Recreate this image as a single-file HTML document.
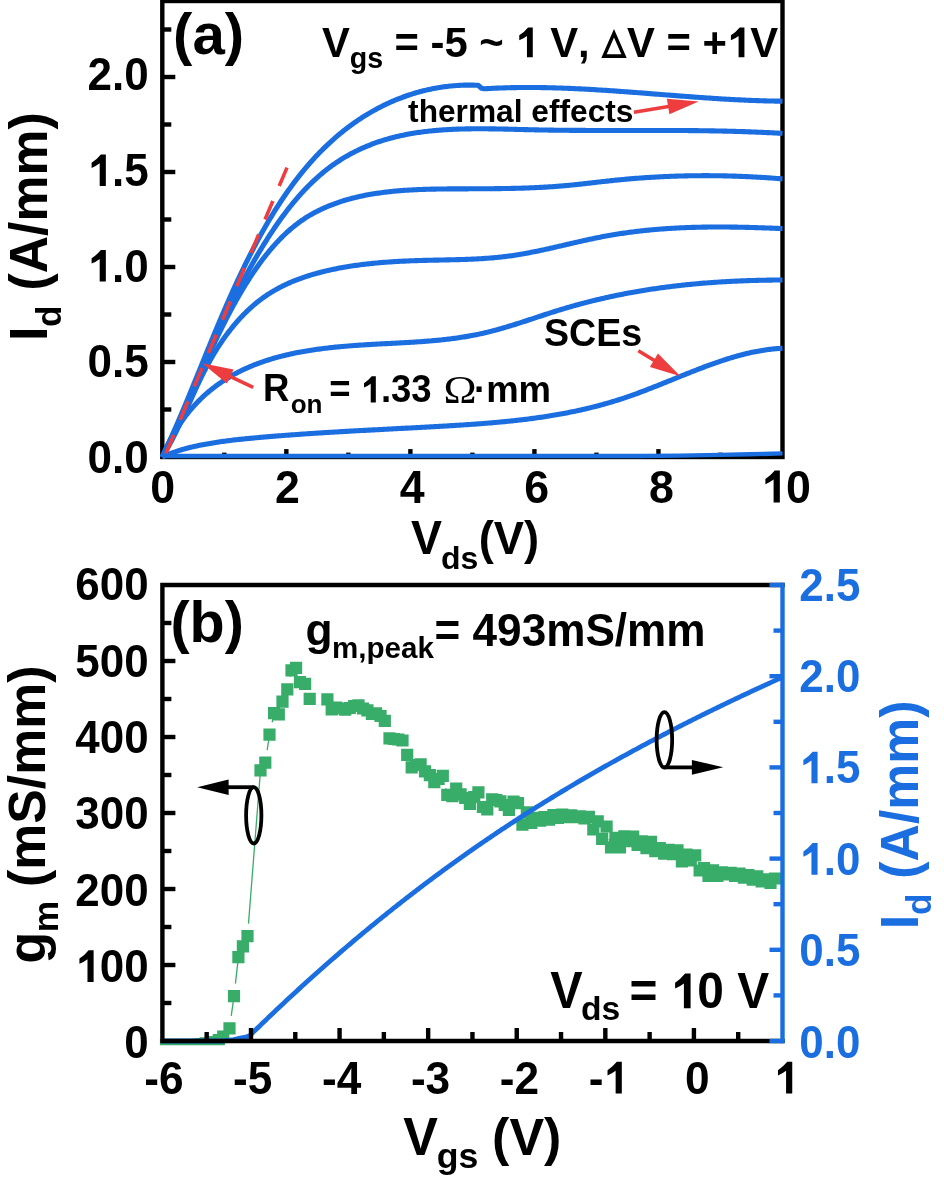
<!DOCTYPE html>
<html><head><meta charset="utf-8"><title>Figure</title>
<style>
html,body{margin:0;padding:0;background:#fff;}
svg{display:block;will-change:transform;}
text{font-family:"Liberation Sans", sans-serif;font-weight:bold;font-kerning:none;}
</style></head>
<body>
<svg width="944" height="1182" viewBox="0 0 944 1182">
<rect width="944" height="1182" fill="#fff"/>
<line x1="224.32" y1="457" x2="224.32" y2="452.6" stroke="#000" stroke-width="4.4"/>
<line x1="286.34" y1="457" x2="286.34" y2="449.1" stroke="#000" stroke-width="4.4"/>
<line x1="348.36" y1="457" x2="348.36" y2="452.6" stroke="#000" stroke-width="4.4"/>
<line x1="410.38" y1="457" x2="410.38" y2="449.1" stroke="#000" stroke-width="4.4"/>
<line x1="472.4" y1="457" x2="472.4" y2="452.6" stroke="#000" stroke-width="4.4"/>
<line x1="534.42" y1="457" x2="534.42" y2="449.1" stroke="#000" stroke-width="4.4"/>
<line x1="596.44" y1="457" x2="596.44" y2="452.6" stroke="#000" stroke-width="4.4"/>
<line x1="658.46" y1="457" x2="658.46" y2="449.1" stroke="#000" stroke-width="4.4"/>
<line x1="720.48" y1="457" x2="720.48" y2="452.6" stroke="#000" stroke-width="4.4"/>
<line x1="162.3" y1="409.5" x2="171.3" y2="409.5" stroke="#000" stroke-width="4.4"/>
<line x1="162.3" y1="362" x2="175.3" y2="362" stroke="#000" stroke-width="4.4"/>
<line x1="162.3" y1="314.5" x2="171.3" y2="314.5" stroke="#000" stroke-width="4.4"/>
<line x1="162.3" y1="267" x2="175.3" y2="267" stroke="#000" stroke-width="4.4"/>
<line x1="162.3" y1="219.5" x2="171.3" y2="219.5" stroke="#000" stroke-width="4.4"/>
<line x1="162.3" y1="172" x2="175.3" y2="172" stroke="#000" stroke-width="4.4"/>
<line x1="162.3" y1="124.5" x2="171.3" y2="124.5" stroke="#000" stroke-width="4.4"/>
<line x1="162.3" y1="77" x2="175.3" y2="77" stroke="#000" stroke-width="4.4"/>
<line x1="162.3" y1="29.5" x2="171.3" y2="29.5" stroke="#000" stroke-width="4.4"/>
<rect x="162.3" y="1" width="620.2" height="456" fill="none" stroke="#000" stroke-width="4.4"/>
<path d="M162.3 456 L400 456 L640 456 L680 455.6 L720 454.9 L750 454.3 L782.5 453.4" fill="none" stroke="#1b6ee0" stroke-width="4.4"/>
<path d="M162.29 456.99 L163.72 456.34 L165.14 455.71 L166.57 455.1 L168 454.51 L169.43 453.94 L170.87 453.38 L172.3 452.84 L173.73 452.32 L175.17 451.82 L176.61 451.33 L178.05 450.86 L179.48 450.41 L180.92 449.96 L182.37 449.54 L183.81 449.12 L185.25 448.72 L186.7 448.33 L188.14 447.95 L189.59 447.59 L191.04 447.23 L192.49 446.89 L193.94 446.55 L195.39 446.23 L196.84 445.91 L198.29 445.6 L199.75 445.3 L201.2 445.01 L202.66 444.72 L204.11 444.44 L205.57 444.17 L207.03 443.9 L208.49 443.64 L209.95 443.39 L211.41 443.14 L212.87 442.9 L214.34 442.66 L215.8 442.43 L217.27 442.21 L218.73 441.99 L220.2 441.78 L221.67 441.57 L223.14 441.37 L224.61 441.17 L226.08 440.98 L227.55 440.79 L229.02 440.6 L230.49 440.42 L231.97 440.24 L233.44 440.07 L234.92 439.9 L236.39 439.73 L237.87 439.57 L239.35 439.41 L240.83 439.25 L242.31 439.1 L243.78 438.95 L245.27 438.8 L246.75 438.65 L248.23 438.51 L249.71 438.37 L251.19 438.23 L252.68 438.09 L254.16 437.95 L255.65 437.81 L257.13 437.68 L258.62 437.55 L260.11 437.41 L261.6 437.28 L263.09 437.15 L264.57 437.02 L266.06 436.9 L267.55 436.77 L269.05 436.64 L270.54 436.52 L272.03 436.4 L273.52 436.27 L275.01 436.15 L276.51 436.03 L278 435.91 L279.5 435.79 L280.99 435.68 L282.49 435.56 L283.99 435.45 L285.48 435.33 L286.98 435.22 L288.48 435.11 L289.97 435 L291.47 434.89 L292.97 434.78 L294.47 434.67 L295.97 434.56 L297.47 434.45 L298.97 434.35 L300.47 434.24 L301.98 434.14 L303.48 434.03 L304.98 433.93 L306.48 433.83 L307.99 433.73 L309.49 433.63 L310.99 433.53 L312.5 433.43 L314 433.33 L315.51 433.23 L317.01 433.14 L318.52 433.04 L320.02 432.95 L321.53 432.85 L323.03 432.76 L324.54 432.66 L326.05 432.57 L327.55 432.48 L329.06 432.39 L330.57 432.3 L332.07 432.21 L333.58 432.12 L335.09 432.03 L336.6 431.94 L338.11 431.85 L339.61 431.76 L341.12 431.67 L342.63 431.59 L344.14 431.5 L345.65 431.41 L347.16 431.33 L348.67 431.24 L350.18 431.16 L351.69 431.07 L353.19 430.99 L354.7 430.9 L356.21 430.82 L357.72 430.74 L359.23 430.66 L360.74 430.57 L362.25 430.49 L363.76 430.41 L365.27 430.33 L366.78 430.25 L368.29 430.16 L369.8 430.08 L371.31 430 L372.82 429.92 L374.33 429.84 L375.84 429.76 L377.35 429.68 L378.86 429.6 L380.37 429.52 L381.88 429.44 L383.39 429.36 L384.9 429.28 L386.41 429.2 L387.92 429.12 L389.42 429.05 L390.93 428.97 L392.44 428.89 L393.95 428.81 L395.46 428.73 L396.97 428.65 L398.47 428.57 L399.98 428.49 L401.49 428.41 L403 428.33 L404.5 428.25 L406.01 428.17 L407.52 428.09 L409.02 428.01 L410.53 427.93 L412.04 427.85 L413.54 427.77 L415.05 427.69 L416.55 427.61 L418.06 427.53 L419.56 427.45 L421.07 427.37 L422.57 427.29 L424.07 427.21 L425.58 427.12 L427.08 427.04 L428.58 426.96 L430.08 426.88 L431.58 426.79 L433.09 426.71 L434.59 426.62 L436.09 426.54 L437.59 426.46 L439.09 426.37 L440.59 426.29 L442.09 426.2 L443.58 426.11 L445.08 426.03 L446.58 425.94 L448.08 425.85 L449.57 425.76 L451.07 425.67 L452.57 425.58 L454.06 425.49 L455.56 425.4 L457.05 425.31 L458.54 425.21 L460.04 425.12 L461.53 425.02 L463.02 424.93 L464.52 424.83 L466.01 424.73 L467.5 424.63 L468.99 424.53 L470.48 424.43 L471.97 424.32 L473.46 424.22 L474.95 424.11 L476.44 424 L477.93 423.9 L479.42 423.78 L480.9 423.67 L482.39 423.56 L483.88 423.44 L485.36 423.32 L486.85 423.21 L488.33 423.08 L489.82 422.96 L491.3 422.84 L492.79 422.71 L494.27 422.58 L495.75 422.45 L497.24 422.32 L498.72 422.18 L500.2 422.05 L501.68 421.91 L503.16 421.77 L504.64 421.62 L506.12 421.48 L507.6 421.33 L509.08 421.18 L510.56 421.02 L512.04 420.87 L513.52 420.71 L515 420.55 L516.47 420.39 L517.95 420.22 L519.43 420.05 L520.9 419.88 L522.38 419.71 L523.85 419.53 L525.33 419.35 L526.8 419.16 L528.27 418.98 L529.75 418.79 L531.22 418.6 L532.69 418.4 L534.16 418.2 L535.63 418 L537.11 417.8 L538.58 417.59 L540.05 417.38 L541.52 417.16 L542.99 416.94 L544.45 416.72 L545.92 416.49 L547.39 416.27 L548.86 416.03 L550.32 415.8 L551.79 415.56 L553.26 415.31 L554.72 415.07 L556.19 414.81 L557.65 414.56 L559.12 414.3 L560.58 414.04 L562.05 413.77 L563.51 413.5 L564.97 413.22 L566.43 412.94 L567.9 412.66 L569.36 412.37 L570.82 412.08 L572.28 411.78 L573.74 411.48 L575.2 411.18 L576.66 410.87 L578.12 410.55 L579.57 410.23 L581.03 409.91 L582.49 409.58 L583.95 409.25 L585.4 408.91 L586.86 408.57 L588.31 408.22 L589.77 407.87 L591.22 407.52 L592.68 407.15 L594.13 406.79 L595.59 406.42 L597.04 406.04 L598.49 405.66 L599.94 405.27 L601.4 404.88 L602.85 404.48 L604.3 404.08 L605.75 403.67 L607.2 403.26 L608.65 402.84 L610.1 402.41 L611.54 401.98 L612.99 401.55 L614.44 401.11 L615.89 400.66 L617.34 400.21 L618.78 399.75 L620.23 399.29 L621.67 398.82 L623.12 398.34 L624.56 397.86 L626.01 397.37 L627.45 396.88 L628.89 396.38 L630.34 395.88 L631.78 395.37 L633.22 394.86 L634.66 394.34 L636.11 393.81 L637.55 393.29 L638.99 392.75 L640.43 392.22 L641.87 391.68 L643.31 391.13 L644.75 390.59 L646.19 390.04 L647.62 389.48 L649.06 388.93 L650.5 388.37 L651.94 387.8 L653.38 387.24 L654.81 386.67 L656.25 386.1 L657.69 385.53 L659.12 384.96 L660.56 384.38 L661.99 383.8 L663.43 383.23 L664.87 382.65 L666.3 382.07 L667.74 381.49 L669.17 380.91 L670.6 380.33 L672.04 379.74 L673.47 379.16 L674.91 378.58 L676.34 378 L677.77 377.42 L679.21 376.84 L680.64 376.26 L682.07 375.68 L683.51 375.11 L684.94 374.53 L686.37 373.96 L687.81 373.38 L689.24 372.81 L690.67 372.25 L692.1 371.68 L693.54 371.12 L694.97 370.56 L696.4 370 L697.83 369.44 L699.26 368.89 L700.7 368.34 L702.13 367.8 L703.56 367.26 L704.99 366.72 L706.42 366.18 L707.86 365.66 L709.29 365.13 L710.72 364.61 L712.15 364.09 L713.58 363.58 L715.02 363.08 L716.45 362.58 L717.88 362.08 L719.31 361.59 L720.74 361.11 L722.18 360.63 L723.61 360.16 L725.04 359.7 L726.47 359.24 L727.91 358.78 L729.34 358.34 L730.77 357.9 L732.2 357.47 L733.64 357.05 L735.07 356.63 L736.5 356.22 L737.94 355.82 L739.37 355.43 L740.81 355.05 L742.24 354.67 L743.67 354.3 L745.11 353.95 L746.54 353.6 L747.98 353.26 L749.41 352.93 L750.85 352.61 L752.28 352.29 L753.72 351.99 L755.15 351.7 L756.59 351.42 L758.03 351.15 L759.46 350.89 L760.9 350.64 L762.34 350.4 L763.78 350.17 L765.21 349.96 L766.65 349.75 L768.09 349.56 L769.53 349.38 L770.97 349.21 L772.41 349.05 L773.85 348.9 L775.29 348.77 L776.73 348.65 L778.17 348.54 L779.61 348.45 L781.05 348.37 L782.49 348.3" fill="none" stroke="#1b6ee0" stroke-width="5.1" stroke-linejoin="round"/>
<path d="M162.3 457 L162.86 455.61 L163.44 454.23 L164.03 452.84 L164.64 451.46 L165.26 450.08 L165.89 448.7 L166.53 447.33 L167.19 445.96 L167.86 444.6 L168.54 443.24 L169.24 441.88 L169.95 440.53 L170.66 439.18 L171.4 437.84 L172.14 436.5 L172.89 435.17 L173.66 433.84 L174.44 432.52 L175.23 431.21 L176.03 429.9 L176.85 428.6 L177.67 427.31 L178.51 426.03 L179.36 424.75 L180.21 423.48 L181.08 422.22 L181.96 420.96 L182.85 419.72 L183.76 418.48 L184.67 417.25 L185.59 416.03 L186.52 414.82 L187.47 413.62 L188.42 412.43 L189.38 411.25 L190.36 410.09 L191.34 408.93 L192.33 407.78 L193.34 406.64 L194.35 405.52 L195.37 404.41 L196.4 403.31 L197.44 402.22 L198.49 401.14 L199.55 400.08 L200.61 399.03 L201.69 397.99 L202.78 396.96 L203.87 395.95 L204.97 394.95 L206.08 393.96 L207.2 392.98 L208.33 392.02 L209.46 391.07 L210.61 390.13 L211.76 389.2 L212.92 388.29 L214.08 387.39 L215.26 386.5 L216.44 385.62 L217.63 384.75 L218.83 383.9 L220.03 383.06 L221.24 382.23 L222.46 381.41 L223.69 380.6 L224.92 379.81 L226.16 379.03 L227.4 378.26 L228.66 377.5 L229.91 376.75 L231.18 376.01 L232.45 375.29 L233.73 374.57 L235.01 373.87 L236.3 373.18 L237.6 372.5 L238.9 371.83 L240.2 371.18 L241.52 370.53 L242.83 369.9 L244.16 369.27 L245.49 368.66 L246.82 368.06 L248.16 367.46 L249.5 366.88 L250.85 366.31 L252.21 365.75 L253.57 365.2 L254.93 364.66 L256.3 364.13 L257.68 363.6 L259.05 363.09 L260.44 362.59 L261.83 362.1 L263.22 361.61 L264.61 361.14 L266.02 360.67 L267.42 360.22 L268.83 359.77 L270.24 359.33 L271.66 358.9 L273.08 358.48 L274.51 358.07 L275.94 357.66 L277.37 357.27 L278.81 356.88 L280.25 356.5 L281.69 356.13 L283.14 355.77 L284.59 355.41 L286.04 355.06 L287.5 354.72 L288.96 354.39 L290.42 354.06 L291.89 353.74 L293.36 353.43 L294.83 353.12 L296.3 352.83 L297.78 352.54 L299.26 352.25 L300.74 351.97 L302.23 351.7 L303.72 351.44 L305.21 351.18 L306.7 350.93 L308.19 350.68 L309.69 350.44 L311.19 350.2 L312.69 349.98 L314.19 349.75 L315.69 349.53 L317.2 349.32 L318.71 349.12 L320.21 348.91 L321.72 348.72 L323.24 348.53 L324.75 348.34 L326.26 348.16 L327.78 347.98 L329.3 347.81 L330.81 347.64 L332.33 347.47 L333.85 347.31 L335.37 347.16 L336.9 347.01 L338.42 346.86 L339.94 346.72 L341.46 346.58 L342.99 346.44 L344.51 346.31 L346.04 346.18 L347.56 346.05 L349.09 345.93 L350.61 345.81 L352.14 345.69 L353.66 345.58 L355.19 345.47 L356.71 345.36 L358.24 345.25 L359.76 345.15 L361.29 345.05 L362.81 344.95 L364.34 344.85 L365.86 344.76 L367.38 344.67 L368.9 344.58 L370.42 344.49 L371.94 344.4 L373.46 344.31 L374.98 344.23 L376.49 344.15 L378.01 344.06 L379.52 343.98 L381.04 343.9 L382.55 343.82 L384.06 343.74 L385.57 343.67 L387.08 343.59 L388.59 343.51 L390.09 343.43 L391.6 343.36 L393.11 343.28 L394.61 343.2 L396.11 343.12 L397.62 343.04 L399.12 342.96 L400.62 342.88 L402.12 342.8 L403.62 342.72 L405.11 342.64 L406.61 342.55 L408.11 342.47 L409.6 342.38 L411.1 342.29 L412.59 342.2 L414.08 342.1 L415.57 342.01 L417.06 341.91 L418.55 341.81 L420.04 341.71 L421.53 341.61 L423.02 341.5 L424.51 341.39 L425.99 341.27 L427.48 341.16 L428.96 341.04 L430.45 340.92 L431.93 340.79 L433.41 340.66 L434.89 340.52 L436.37 340.39 L437.85 340.25 L439.33 340.1 L440.81 339.95 L442.29 339.8 L443.77 339.64 L445.24 339.47 L446.72 339.3 L448.19 339.13 L449.67 338.95 L451.14 338.77 L452.61 338.58 L454.09 338.39 L455.56 338.19 L457.03 337.98 L458.5 337.77 L459.97 337.55 L461.44 337.33 L462.91 337.1 L464.38 336.87 L465.85 336.62 L467.31 336.37 L468.78 336.12 L470.25 335.86 L471.71 335.59 L473.18 335.31 L474.64 335.03 L476.11 334.74 L477.57 334.44 L479.03 334.13 L480.5 333.82 L481.96 333.5 L483.42 333.17 L484.88 332.83 L486.34 332.48 L487.8 332.13 L489.26 331.77 L490.72 331.4 L492.18 331.03 L493.64 330.64 L495.1 330.26 L496.56 329.86 L498.02 329.46 L499.47 329.05 L500.93 328.64 L502.39 328.22 L503.84 327.8 L505.3 327.37 L506.75 326.93 L508.21 326.5 L509.67 326.05 L511.12 325.61 L512.57 325.16 L514.03 324.71 L515.48 324.25 L516.94 323.79 L518.39 323.33 L519.84 322.86 L521.29 322.39 L522.75 321.92 L524.2 321.45 L525.65 320.98 L527.1 320.5 L528.56 320.02 L530.01 319.55 L531.46 319.07 L532.91 318.59 L534.36 318.11 L535.81 317.63 L537.26 317.15 L538.71 316.67 L540.16 316.2 L541.61 315.72 L543.06 315.24 L544.51 314.77 L545.96 314.29 L547.41 313.82 L548.86 313.35 L550.31 312.89 L551.76 312.42 L553.21 311.96 L554.66 311.5 L556.11 311.05 L557.56 310.59 L559.01 310.14 L560.46 309.7 L561.91 309.26 L563.36 308.82 L564.81 308.39 L566.26 307.96 L567.71 307.54 L569.16 307.11 L570.61 306.7 L572.06 306.28 L573.51 305.87 L574.96 305.47 L576.41 305.07 L577.86 304.67 L579.31 304.27 L580.76 303.88 L582.21 303.5 L583.66 303.11 L585.11 302.73 L586.56 302.36 L588.01 301.99 L589.46 301.62 L590.91 301.25 L592.36 300.89 L593.81 300.54 L595.26 300.18 L596.72 299.83 L598.17 299.49 L599.62 299.15 L601.07 298.81 L602.52 298.47 L603.98 298.14 L605.43 297.81 L606.88 297.49 L608.34 297.17 L609.79 296.85 L611.25 296.53 L612.7 296.22 L614.15 295.92 L615.61 295.61 L617.07 295.31 L618.52 295.02 L619.98 294.72 L621.43 294.43 L622.89 294.14 L624.35 293.86 L625.8 293.58 L627.26 293.3 L628.72 293.03 L630.18 292.76 L631.64 292.49 L633.1 292.23 L634.56 291.97 L636.02 291.71 L637.48 291.46 L638.94 291.21 L640.4 290.96 L641.86 290.72 L643.32 290.48 L644.79 290.24 L646.25 290.01 L647.71 289.77 L649.18 289.55 L650.64 289.32 L652.11 289.1 L653.57 288.88 L655.04 288.66 L656.51 288.45 L657.98 288.24 L659.44 288.03 L660.91 287.83 L662.38 287.63 L663.85 287.43 L665.32 287.24 L666.79 287.04 L668.26 286.85 L669.74 286.67 L671.21 286.49 L672.68 286.3 L674.16 286.13 L675.63 285.95 L677.11 285.78 L678.58 285.61 L680.06 285.45 L681.54 285.28 L683.01 285.12 L684.49 284.96 L685.97 284.81 L687.45 284.66 L688.93 284.51 L690.41 284.36 L691.9 284.22 L693.38 284.08 L694.86 283.94 L696.35 283.8 L697.83 283.67 L699.32 283.54 L700.81 283.41 L702.29 283.28 L703.78 283.16 L705.27 283.04 L706.76 282.92 L708.25 282.81 L709.75 282.7 L711.24 282.59 L712.73 282.48 L714.23 282.37 L715.72 282.27 L717.22 282.17 L718.71 282.07 L720.21 281.98 L721.71 281.88 L723.21 281.79 L724.71 281.71 L726.21 281.62 L727.72 281.54 L729.22 281.46 L730.72 281.38 L732.23 281.3 L733.74 281.23 L735.24 281.16 L736.75 281.09 L738.26 281.02 L739.77 280.96 L741.28 280.89 L742.79 280.83 L744.31 280.77 L745.82 280.72 L747.34 280.67 L748.85 280.61 L750.37 280.56 L751.89 280.52 L753.41 280.47 L754.93 280.43 L756.45 280.39 L757.98 280.35 L759.5 280.31 L761.03 280.28 L762.55 280.25 L764.08 280.21 L765.61 280.19 L767.14 280.16 L768.67 280.13 L770.2 280.11 L771.73 280.09 L773.27 280.07 L774.81 280.06 L776.34 280.04 L777.88 280.03 L779.42 280.02 L780.96 280.01 L782.5 280" fill="none" stroke="#1b6ee0" stroke-width="5.1" stroke-linejoin="round"/>
<path d="M162.3 457 L163.08 455.73 L163.86 454.46 L164.62 453.19 L165.38 451.91 L166.13 450.63 L166.87 449.34 L167.6 448.05 L168.33 446.75 L169.04 445.46 L169.75 444.15 L170.46 442.85 L171.16 441.54 L171.85 440.22 L172.53 438.9 L173.21 437.58 L173.89 436.26 L174.55 434.93 L175.22 433.61 L175.88 432.27 L176.53 430.94 L177.18 429.6 L177.83 428.26 L178.47 426.92 L179.11 425.57 L179.74 424.23 L180.37 422.88 L181 421.53 L181.63 420.17 L182.25 418.82 L182.87 417.46 L183.49 416.11 L184.11 414.75 L184.72 413.39 L185.34 412.02 L185.95 410.66 L186.56 409.3 L187.17 407.93 L187.79 406.56 L188.4 405.2 L189.01 403.83 L189.62 402.46 L190.24 401.09 L190.85 399.73 L191.46 398.36 L192.08 396.99 L192.7 395.62 L193.32 394.25 L193.94 392.88 L194.56 391.51 L195.19 390.14 L195.82 388.78 L196.45 387.41 L197.09 386.04 L197.73 384.68 L198.37 383.31 L199.02 381.95 L199.67 380.59 L200.33 379.23 L200.99 377.87 L201.65 376.51 L202.32 375.15 L203 373.8 L203.68 372.44 L204.37 371.09 L205.06 369.74 L205.76 368.39 L206.47 367.05 L207.18 365.7 L207.91 364.36 L208.63 363.03 L209.37 361.69 L210.11 360.36 L210.86 359.03 L211.62 357.7 L212.39 356.38 L213.17 355.05 L213.95 353.74 L214.75 352.42 L215.55 351.11 L216.36 349.81 L217.17 348.51 L218 347.21 L218.83 345.92 L219.67 344.64 L220.52 343.36 L221.38 342.08 L222.25 340.81 L223.12 339.55 L224.01 338.3 L224.9 337.05 L225.8 335.8 L226.7 334.57 L227.62 333.34 L228.54 332.12 L229.47 330.9 L230.41 329.7 L231.36 328.5 L232.31 327.31 L233.28 326.13 L234.25 324.96 L235.23 323.8 L236.22 322.64 L237.21 321.5 L238.22 320.37 L239.23 319.24 L240.25 318.13 L241.28 317.02 L242.32 315.93 L243.36 314.85 L244.42 313.78 L245.48 312.72 L246.55 311.67 L247.62 310.63 L248.71 309.6 L249.8 308.59 L250.9 307.59 L252.01 306.6 L253.13 305.63 L254.25 304.67 L255.39 303.72 L256.53 302.78 L257.68 301.86 L258.84 300.95 L260 300.05 L261.17 299.17 L262.35 298.3 L263.54 297.45 L264.74 296.61 L265.94 295.78 L267.15 294.96 L268.37 294.16 L269.59 293.37 L270.82 292.6 L272.06 291.84 L273.3 291.09 L274.55 290.36 L275.81 289.64 L277.08 288.93 L278.35 288.24 L279.62 287.56 L280.91 286.89 L282.2 286.24 L283.5 285.6 L284.8 284.97 L286.11 284.35 L287.42 283.75 L288.74 283.15 L290.07 282.57 L291.4 282 L292.74 281.44 L294.08 280.9 L295.43 280.36 L296.79 279.83 L298.15 279.32 L299.51 278.81 L300.88 278.31 L302.26 277.83 L303.64 277.35 L305.02 276.88 L306.41 276.42 L307.81 275.97 L309.21 275.53 L310.61 275.1 L312.02 274.67 L313.43 274.26 L314.85 273.85 L316.27 273.45 L317.7 273.06 L319.13 272.67 L320.56 272.29 L322 271.93 L323.44 271.56 L324.89 271.21 L326.34 270.86 L327.79 270.52 L329.25 270.19 L330.71 269.87 L332.17 269.55 L333.64 269.24 L335.11 268.94 L336.58 268.64 L338.06 268.35 L339.54 268.07 L341.02 267.79 L342.51 267.52 L344 267.26 L345.49 267 L346.99 266.75 L348.48 266.51 L349.98 266.27 L351.48 266.04 L352.99 265.81 L354.49 265.59 L356 265.37 L357.51 265.17 L359.02 264.96 L360.54 264.77 L362.05 264.57 L363.57 264.39 L365.09 264.2 L366.61 264.03 L368.14 263.86 L369.66 263.69 L371.19 263.53 L372.71 263.37 L374.24 263.22 L375.77 263.08 L377.3 262.93 L378.83 262.8 L380.36 262.66 L381.9 262.54 L383.43 262.41 L384.96 262.29 L386.5 262.18 L388.04 262.06 L389.57 261.96 L391.11 261.85 L392.64 261.75 L394.18 261.66 L395.72 261.56 L397.25 261.47 L398.79 261.39 L400.33 261.31 L401.86 261.23 L403.4 261.15 L404.94 261.08 L406.47 261.01 L408.01 260.94 L409.54 260.88 L411.08 260.82 L412.61 260.76 L414.14 260.71 L415.67 260.65 L417.2 260.6 L418.73 260.55 L420.26 260.51 L421.78 260.47 L423.31 260.42 L424.84 260.38 L426.36 260.35 L427.88 260.31 L429.4 260.27 L430.93 260.24 L432.45 260.21 L433.96 260.17 L435.48 260.14 L437 260.11 L438.52 260.08 L440.03 260.05 L441.55 260.01 L443.06 259.98 L444.57 259.95 L446.08 259.92 L447.59 259.89 L449.1 259.85 L450.61 259.82 L452.12 259.78 L453.63 259.75 L455.13 259.71 L456.64 259.67 L458.15 259.63 L459.65 259.58 L461.15 259.54 L462.66 259.49 L464.16 259.44 L465.66 259.39 L467.16 259.33 L468.66 259.28 L470.16 259.22 L471.65 259.15 L473.15 259.08 L474.65 259.01 L476.14 258.94 L477.64 258.86 L479.13 258.78 L480.63 258.69 L482.12 258.6 L483.61 258.51 L485.1 258.41 L486.6 258.3 L488.09 258.19 L489.58 258.08 L491.07 257.96 L492.55 257.84 L494.04 257.71 L495.53 257.57 L497.02 257.43 L498.5 257.28 L499.99 257.13 L501.47 256.97 L502.96 256.8 L504.44 256.63 L505.93 256.45 L507.41 256.26 L508.89 256.07 L510.37 255.87 L511.85 255.66 L513.34 255.44 L514.82 255.22 L516.3 254.99 L517.78 254.76 L519.26 254.51 L520.73 254.27 L522.21 254.01 L523.69 253.75 L525.17 253.49 L526.64 253.22 L528.12 252.94 L529.6 252.66 L531.07 252.37 L532.55 252.08 L534.02 251.79 L535.5 251.49 L536.97 251.19 L538.45 250.88 L539.92 250.57 L541.4 250.26 L542.87 249.94 L544.34 249.62 L545.81 249.3 L547.29 248.97 L548.76 248.65 L550.23 248.32 L551.7 247.98 L553.17 247.65 L554.65 247.32 L556.12 246.98 L557.59 246.64 L559.06 246.3 L560.53 245.96 L562 245.62 L563.47 245.28 L564.94 244.94 L566.41 244.6 L567.88 244.25 L569.35 243.91 L570.82 243.57 L572.29 243.23 L573.75 242.89 L575.22 242.55 L576.69 242.22 L578.16 241.88 L579.63 241.55 L581.1 241.22 L582.57 240.88 L584.03 240.56 L585.5 240.23 L586.97 239.91 L588.44 239.59 L589.91 239.27 L591.38 238.96 L592.85 238.65 L594.31 238.34 L595.78 238.04 L597.25 237.74 L598.72 237.44 L600.19 237.15 L601.66 236.87 L603.12 236.58 L604.59 236.31 L606.06 236.04 L607.53 235.77 L609 235.51 L610.47 235.25 L611.94 235 L613.41 234.75 L614.88 234.5 L616.35 234.27 L617.82 234.03 L619.29 233.8 L620.76 233.58 L622.23 233.36 L623.7 233.14 L625.17 232.93 L626.64 232.72 L628.11 232.52 L629.58 232.32 L631.05 232.12 L632.53 231.93 L634 231.75 L635.47 231.56 L636.94 231.39 L638.42 231.21 L639.89 231.04 L641.36 230.88 L642.84 230.72 L644.31 230.56 L645.78 230.4 L647.26 230.25 L648.73 230.11 L650.21 229.97 L651.69 229.83 L653.16 229.69 L654.64 229.56 L656.12 229.44 L657.59 229.31 L659.07 229.19 L660.55 229.08 L662.03 228.97 L663.51 228.86 L664.99 228.75 L666.47 228.65 L667.95 228.55 L669.43 228.45 L670.91 228.36 L672.39 228.27 L673.87 228.19 L675.36 228.11 L676.84 228.03 L678.32 227.95 L679.81 227.88 L681.29 227.81 L682.78 227.75 L684.27 227.68 L685.75 227.62 L687.24 227.57 L688.73 227.51 L690.22 227.46 L691.71 227.41 L693.2 227.37 L694.69 227.33 L696.18 227.29 L697.67 227.25 L699.16 227.22 L700.65 227.19 L702.15 227.16 L703.64 227.13 L705.14 227.11 L706.63 227.09 L708.13 227.07 L709.63 227.05 L711.12 227.04 L712.62 227.03 L714.12 227.02 L715.62 227.02 L717.12 227.01 L718.62 227.01 L720.13 227.01 L721.63 227.01 L723.13 227.02 L724.64 227.03 L726.14 227.04 L727.65 227.05 L729.16 227.06 L730.67 227.08 L732.17 227.1 L733.68 227.12 L735.19 227.14 L736.71 227.16 L738.22 227.19 L739.73 227.22 L741.25 227.25 L742.76 227.28 L744.28 227.31 L745.79 227.34 L747.31 227.38 L748.83 227.42 L750.35 227.46 L751.87 227.5 L753.39 227.54 L754.92 227.59 L756.44 227.63 L757.96 227.68 L759.49 227.73 L761.02 227.78 L762.54 227.83 L764.07 227.88 L765.6 227.93 L767.13 227.99 L768.67 228.05 L770.2 228.1 L771.73 228.16 L773.27 228.22 L774.8 228.28 L776.34 228.34 L777.88 228.41 L779.42 228.47 L780.96 228.53 L782.5 228.6" fill="none" stroke="#1b6ee0" stroke-width="5.1" stroke-linejoin="round"/>
<path d="M162.3 457 L163 455.64 L163.7 454.29 L164.39 452.93 L165.08 451.57 L165.76 450.22 L166.44 448.86 L167.12 447.5 L167.8 446.14 L168.47 444.78 L169.14 443.42 L169.8 442.06 L170.46 440.7 L171.12 439.34 L171.78 437.98 L172.43 436.62 L173.08 435.25 L173.73 433.89 L174.37 432.53 L175.01 431.17 L175.65 429.8 L176.29 428.44 L176.92 427.07 L177.55 425.71 L178.18 424.35 L178.81 422.98 L179.43 421.62 L180.06 420.25 L180.68 418.89 L181.3 417.52 L181.91 416.15 L182.53 414.79 L183.14 413.42 L183.76 412.06 L184.37 410.69 L184.98 409.33 L185.59 407.96 L186.19 406.59 L186.8 405.23 L187.4 403.86 L188.01 402.5 L188.61 401.13 L189.21 399.76 L189.81 398.4 L190.41 397.03 L191.01 395.66 L191.61 394.3 L192.21 392.93 L192.8 391.57 L193.4 390.2 L194 388.84 L194.6 387.47 L195.19 386.11 L195.79 384.74 L196.39 383.38 L196.98 382.01 L197.58 380.65 L198.18 379.28 L198.77 377.92 L199.37 376.56 L199.97 375.19 L200.57 373.83 L201.17 372.47 L201.77 371.11 L202.37 369.75 L202.97 368.38 L203.57 367.02 L204.18 365.66 L204.78 364.3 L205.39 362.94 L206 361.58 L206.6 360.22 L207.21 358.87 L207.83 357.51 L208.44 356.15 L209.05 354.79 L209.67 353.44 L210.29 352.08 L210.91 350.72 L211.53 349.37 L212.15 348.02 L212.78 346.66 L213.4 345.31 L214.03 343.96 L214.67 342.6 L215.3 341.25 L215.94 339.9 L216.58 338.55 L217.22 337.2 L217.87 335.86 L218.51 334.51 L219.16 333.16 L219.82 331.81 L220.47 330.47 L221.13 329.12 L221.79 327.78 L222.46 326.44 L223.13 325.1 L223.8 323.75 L224.48 322.41 L225.16 321.07 L225.84 319.74 L226.53 318.4 L227.22 317.06 L227.91 315.72 L228.61 314.39 L229.31 313.05 L230.01 311.72 L230.72 310.39 L231.44 309.06 L232.16 307.73 L232.88 306.4 L233.61 305.07 L234.34 303.74 L235.07 302.42 L235.82 301.09 L236.56 299.77 L237.31 298.45 L238.07 297.12 L238.83 295.8 L239.59 294.48 L240.36 293.17 L241.14 291.85 L241.92 290.53 L242.7 289.22 L243.49 287.91 L244.29 286.59 L245.09 285.28 L245.9 283.98 L246.72 282.67 L247.53 281.37 L248.36 280.07 L249.19 278.77 L250.03 277.47 L250.87 276.18 L251.72 274.89 L252.57 273.61 L253.43 272.33 L254.29 271.05 L255.17 269.78 L256.04 268.51 L256.93 267.25 L257.82 265.99 L258.72 264.74 L259.62 263.49 L260.53 262.25 L261.44 261.02 L262.37 259.79 L263.29 258.57 L264.23 257.35 L265.17 256.14 L266.12 254.94 L267.07 253.75 L268.04 252.56 L269.01 251.38 L269.98 250.21 L270.96 249.05 L271.95 247.89 L272.95 246.74 L273.95 245.61 L274.96 244.48 L275.98 243.36 L277 242.25 L278.04 241.15 L279.08 240.06 L280.12 238.98 L281.18 237.91 L282.24 236.85 L283.31 235.8 L284.38 234.77 L285.47 233.74 L286.56 232.73 L287.66 231.73 L288.77 230.74 L289.88 229.76 L291 228.79 L292.13 227.84 L293.27 226.9 L294.42 225.97 L295.57 225.06 L296.73 224.15 L297.9 223.27 L299.08 222.39 L300.27 221.54 L301.46 220.69 L302.67 219.86 L303.88 219.05 L305.1 218.24 L306.33 217.46 L307.56 216.69 L308.81 215.93 L310.06 215.18 L311.32 214.45 L312.58 213.74 L313.85 213.03 L315.14 212.34 L316.42 211.67 L317.72 211 L319.02 210.35 L320.33 209.72 L321.64 209.09 L322.96 208.48 L324.29 207.88 L325.62 207.3 L326.96 206.72 L328.31 206.16 L329.66 205.61 L331.02 205.07 L332.38 204.54 L333.75 204.03 L335.12 203.53 L336.5 203.03 L337.89 202.55 L339.27 202.08 L340.67 201.62 L342.07 201.18 L343.47 200.74 L344.88 200.31 L346.29 199.9 L347.71 199.49 L349.13 199.09 L350.55 198.71 L351.98 198.33 L353.42 197.97 L354.85 197.61 L356.29 197.26 L357.74 196.93 L359.18 196.6 L360.63 196.28 L362.09 195.97 L363.54 195.67 L365 195.37 L366.46 195.09 L367.93 194.81 L369.4 194.55 L370.87 194.29 L372.34 194.04 L373.81 193.8 L375.29 193.56 L376.77 193.33 L378.25 193.11 L379.73 192.9 L381.22 192.7 L382.7 192.5 L384.19 192.31 L385.68 192.12 L387.17 191.95 L388.67 191.78 L390.17 191.61 L391.66 191.45 L393.16 191.3 L394.66 191.16 L396.17 191.02 L397.67 190.89 L399.18 190.76 L400.69 190.64 L402.19 190.52 L403.7 190.41 L405.22 190.3 L406.73 190.2 L408.24 190.11 L409.76 190.01 L411.27 189.93 L412.79 189.85 L414.31 189.77 L415.83 189.7 L417.35 189.63 L418.87 189.56 L420.39 189.5 L421.91 189.44 L423.43 189.39 L424.96 189.34 L426.48 189.29 L428 189.25 L429.53 189.21 L431.05 189.17 L432.58 189.14 L434.11 189.1 L435.63 189.08 L437.16 189.05 L438.69 189.02 L440.21 189 L441.74 188.98 L443.27 188.96 L444.79 188.95 L446.32 188.93 L447.85 188.92 L449.38 188.91 L450.9 188.9 L452.43 188.89 L453.95 188.88 L455.48 188.87 L457.01 188.86 L458.53 188.86 L460.05 188.85 L461.58 188.85 L463.1 188.84 L464.62 188.84 L466.14 188.83 L467.67 188.83 L469.19 188.82 L470.71 188.82 L472.23 188.81 L473.74 188.81 L475.26 188.8 L476.78 188.79 L478.3 188.79 L479.81 188.78 L481.33 188.77 L482.84 188.76 L484.36 188.75 L485.87 188.74 L487.38 188.73 L488.9 188.72 L490.41 188.71 L491.92 188.7 L493.43 188.68 L494.94 188.67 L496.45 188.65 L497.96 188.63 L499.47 188.61 L500.98 188.59 L502.49 188.57 L503.99 188.55 L505.5 188.52 L507.01 188.5 L508.51 188.47 L510.02 188.44 L511.52 188.41 L513.03 188.38 L514.53 188.34 L516.04 188.31 L517.54 188.27 L519.04 188.23 L520.54 188.18 L522.05 188.14 L523.55 188.09 L525.05 188.04 L526.55 187.99 L528.05 187.94 L529.55 187.88 L531.05 187.82 L532.55 187.76 L534.05 187.69 L535.55 187.63 L537.04 187.56 L538.54 187.49 L540.04 187.41 L541.54 187.33 L543.03 187.25 L544.53 187.17 L546.02 187.08 L547.52 186.99 L549.02 186.9 L550.51 186.8 L552.01 186.7 L553.5 186.6 L554.99 186.49 L556.49 186.38 L557.98 186.26 L559.47 186.15 L560.97 186.03 L562.46 185.9 L563.95 185.77 L565.45 185.64 L566.94 185.5 L568.43 185.36 L569.92 185.22 L571.41 185.07 L572.9 184.92 L574.4 184.77 L575.89 184.61 L577.38 184.45 L578.87 184.29 L580.36 184.13 L581.85 183.97 L583.34 183.8 L584.83 183.63 L586.32 183.46 L587.81 183.29 L589.3 183.12 L590.78 182.95 L592.27 182.78 L593.76 182.61 L595.25 182.44 L596.74 182.27 L598.23 182.09 L599.72 181.92 L601.21 181.75 L602.69 181.58 L604.18 181.42 L605.67 181.25 L607.16 181.09 L608.65 180.92 L610.13 180.76 L611.62 180.6 L613.11 180.45 L614.6 180.29 L616.09 180.14 L617.57 179.99 L619.06 179.85 L620.55 179.7 L622.04 179.56 L623.52 179.42 L625.01 179.29 L626.5 179.15 L627.99 179.02 L629.48 178.9 L630.96 178.77 L632.45 178.65 L633.94 178.53 L635.43 178.41 L636.92 178.29 L638.4 178.18 L639.89 178.07 L641.38 177.96 L642.87 177.85 L644.36 177.75 L645.85 177.65 L647.33 177.55 L648.82 177.45 L650.31 177.36 L651.8 177.27 L653.29 177.18 L654.78 177.1 L656.27 177.01 L657.76 176.93 L659.25 176.85 L660.74 176.78 L662.23 176.71 L663.72 176.63 L665.21 176.57 L666.7 176.5 L668.19 176.44 L669.68 176.38 L671.17 176.32 L672.66 176.26 L674.15 176.21 L675.64 176.16 L677.14 176.11 L678.63 176.07 L680.12 176.02 L681.61 175.98 L683.11 175.94 L684.6 175.91 L686.09 175.87 L687.59 175.84 L689.08 175.82 L690.58 175.79 L692.07 175.77 L693.56 175.75 L695.06 175.73 L696.55 175.71 L698.05 175.7 L699.55 175.69 L701.04 175.68 L702.54 175.67 L704.04 175.67 L705.53 175.67 L707.03 175.67 L708.53 175.67 L710.03 175.68 L711.53 175.69 L713.03 175.7 L714.53 175.72 L716.03 175.73 L717.53 175.75 L719.03 175.77 L720.53 175.8 L722.03 175.82 L723.53 175.85 L725.03 175.88 L726.54 175.92 L728.04 175.95 L729.54 175.99 L731.05 176.03 L732.55 176.08 L734.06 176.12 L735.56 176.17 L737.07 176.22 L738.58 176.28 L740.08 176.33 L741.59 176.39 L743.1 176.45 L744.61 176.52 L746.12 176.58 L747.63 176.65 L749.14 176.72 L750.65 176.79 L752.16 176.87 L753.67 176.95 L755.18 177.03 L756.69 177.11 L758.21 177.2 L759.72 177.29 L761.24 177.38 L762.75 177.47 L764.27 177.56 L765.78 177.66 L767.3 177.76 L768.82 177.87 L770.33 177.97 L771.85 178.08 L773.37 178.19 L774.89 178.3 L776.41 178.42 L777.93 178.53 L779.46 178.65 L780.98 178.78 L782.5 178.9" fill="none" stroke="#1b6ee0" stroke-width="5.1" stroke-linejoin="round"/>
<path d="M162.3 457 L162.95 455.66 L163.59 454.31 L164.24 452.97 L164.88 451.62 L165.52 450.28 L166.16 448.93 L166.8 447.58 L167.43 446.23 L168.07 444.88 L168.7 443.52 L169.33 442.17 L169.96 440.82 L170.59 439.46 L171.21 438.1 L171.84 436.75 L172.46 435.39 L173.08 434.03 L173.7 432.67 L174.32 431.31 L174.94 429.94 L175.56 428.58 L176.17 427.22 L176.79 425.85 L177.4 424.49 L178.01 423.12 L178.63 421.75 L179.24 420.39 L179.85 419.02 L180.45 417.65 L181.06 416.28 L181.67 414.91 L182.28 413.54 L182.88 412.16 L183.49 410.79 L184.09 409.42 L184.69 408.04 L185.3 406.67 L185.9 405.29 L186.5 403.92 L187.1 402.54 L187.7 401.17 L188.3 399.79 L188.91 398.41 L189.5 397.04 L190.1 395.66 L190.7 394.28 L191.3 392.9 L191.9 391.52 L192.5 390.14 L193.1 388.76 L193.7 387.38 L194.3 386 L194.89 384.62 L195.49 383.24 L196.09 381.86 L196.69 380.48 L197.29 379.1 L197.89 377.72 L198.49 376.34 L199.09 374.95 L199.69 373.57 L200.29 372.19 L200.89 370.81 L201.49 369.43 L202.09 368.05 L202.69 366.66 L203.29 365.28 L203.9 363.9 L204.5 362.52 L205.1 361.14 L205.71 359.76 L206.31 358.38 L206.92 357 L207.53 355.62 L208.14 354.23 L208.74 352.85 L209.35 351.47 L209.96 350.1 L210.58 348.72 L211.19 347.34 L211.8 345.96 L212.42 344.58 L213.03 343.2 L213.65 341.82 L214.27 340.45 L214.89 339.07 L215.51 337.69 L216.13 336.32 L216.75 334.94 L217.38 333.57 L218 332.19 L218.63 330.82 L219.26 329.45 L219.89 328.07 L220.52 326.7 L221.16 325.33 L221.79 323.96 L222.43 322.59 L223.07 321.22 L223.71 319.85 L224.35 318.48 L224.99 317.12 L225.64 315.75 L226.29 314.38 L226.94 313.02 L227.59 311.65 L228.24 310.29 L228.9 308.93 L229.56 307.57 L230.22 306.21 L230.88 304.85 L231.54 303.49 L232.21 302.13 L232.88 300.77 L233.55 299.42 L234.22 298.06 L234.9 296.71 L235.58 295.36 L236.26 294.01 L236.94 292.66 L237.63 291.31 L238.32 289.96 L239.01 288.61 L239.7 287.27 L240.4 285.92 L241.1 284.58 L241.8 283.24 L242.5 281.9 L243.21 280.56 L243.92 279.22 L244.63 277.88 L245.35 276.55 L246.07 275.21 L246.79 273.88 L247.52 272.55 L248.24 271.22 L248.98 269.89 L249.71 268.56 L250.45 267.24 L251.19 265.91 L251.93 264.59 L252.68 263.27 L253.43 261.95 L254.19 260.63 L254.94 259.32 L255.71 258 L256.47 256.69 L257.24 255.38 L258.01 254.07 L258.79 252.76 L259.57 251.45 L260.35 250.15 L261.13 248.85 L261.92 247.55 L262.72 246.25 L263.52 244.95 L264.32 243.66 L265.12 242.36 L265.93 241.07 L266.75 239.78 L267.57 238.49 L268.39 237.21 L269.21 235.93 L270.04 234.65 L270.88 233.37 L271.72 232.1 L272.56 230.83 L273.41 229.56 L274.26 228.3 L275.12 227.04 L275.98 225.78 L276.84 224.53 L277.71 223.28 L278.59 222.03 L279.47 220.79 L280.35 219.55 L281.24 218.32 L282.14 217.09 L283.04 215.87 L283.94 214.65 L284.85 213.43 L285.77 212.22 L286.69 211.02 L287.61 209.82 L288.54 208.62 L289.48 207.44 L290.42 206.25 L291.36 205.08 L292.31 203.9 L293.27 202.74 L294.23 201.58 L295.2 200.42 L296.17 199.28 L297.15 198.14 L298.14 197 L299.13 195.87 L300.13 194.75 L301.13 193.64 L302.14 192.53 L303.15 191.43 L304.17 190.34 L305.2 189.26 L306.23 188.18 L307.27 187.11 L308.32 186.05 L309.37 184.99 L310.42 183.95 L311.49 182.91 L312.56 181.88 L313.63 180.86 L314.72 179.85 L315.81 178.84 L316.9 177.85 L318.01 176.86 L319.12 175.88 L320.23 174.92 L321.36 173.96 L322.49 173.01 L323.62 172.07 L324.77 171.14 L325.92 170.22 L327.08 169.31 L328.24 168.41 L329.41 167.52 L330.59 166.64 L331.78 165.77 L332.97 164.91 L334.17 164.06 L335.38 163.23 L336.6 162.4 L337.82 161.58 L339.05 160.78 L340.29 159.99 L341.54 159.2 L342.79 158.43 L344.05 157.67 L345.31 156.92 L346.58 156.18 L347.86 155.46 L349.14 154.74 L350.43 154.03 L351.73 153.34 L353.03 152.65 L354.34 151.98 L355.66 151.32 L356.98 150.67 L358.3 150.03 L359.63 149.4 L360.97 148.78 L362.31 148.17 L363.66 147.58 L365.01 146.99 L366.36 146.41 L367.72 145.85 L369.09 145.3 L370.46 144.76 L371.83 144.22 L373.21 143.7 L374.59 143.19 L375.98 142.7 L377.37 142.21 L378.76 141.73 L380.16 141.27 L381.56 140.81 L382.96 140.37 L384.37 139.93 L385.78 139.51 L387.2 139.09 L388.62 138.69 L390.04 138.3 L391.46 137.92 L392.89 137.54 L394.32 137.18 L395.76 136.83 L397.19 136.48 L398.63 136.15 L400.08 135.82 L401.52 135.5 L402.97 135.2 L404.42 134.9 L405.88 134.61 L407.34 134.33 L408.8 134.06 L410.26 133.79 L411.72 133.54 L413.19 133.29 L414.66 133.05 L416.14 132.82 L417.61 132.59 L419.09 132.38 L420.57 132.17 L422.05 131.97 L423.54 131.78 L425.03 131.59 L426.51 131.41 L428.01 131.24 L429.5 131.08 L431 130.92 L432.49 130.77 L433.99 130.62 L435.49 130.49 L437 130.35 L438.5 130.23 L440.01 130.11 L441.52 130 L443.03 129.89 L444.54 129.79 L446.05 129.69 L447.57 129.6 L449.08 129.52 L450.6 129.44 L452.12 129.36 L453.64 129.29 L455.16 129.23 L456.69 129.17 L458.21 129.11 L459.74 129.06 L461.26 129.02 L462.79 128.98 L464.32 128.94 L465.85 128.91 L467.38 128.88 L468.91 128.85 L470.44 128.83 L471.97 128.81 L473.51 128.8 L475.04 128.79 L476.58 128.78 L478.11 128.78 L479.65 128.78 L481.19 128.78 L482.73 128.78 L484.26 128.79 L485.8 128.8 L487.34 128.82 L488.88 128.83 L490.42 128.85 L491.96 128.87 L493.5 128.89 L495.04 128.91 L496.58 128.94 L498.12 128.97 L499.66 129 L501.2 129.03 L502.73 129.06 L504.27 129.09 L505.81 129.13 L507.35 129.16 L508.89 129.2 L510.43 129.23 L511.97 129.27 L513.5 129.31 L515.04 129.35 L516.58 129.39 L518.11 129.43 L519.65 129.47 L521.18 129.5 L522.72 129.54 L524.25 129.58 L525.78 129.62 L527.32 129.66 L528.85 129.69 L530.38 129.73 L531.9 129.77 L533.43 129.8 L534.96 129.83 L536.48 129.87 L538.01 129.9 L539.53 129.93 L541.06 129.96 L542.58 129.99 L544.1 130.01 L545.62 130.04 L547.14 130.06 L548.65 130.09 L550.17 130.11 L551.69 130.13 L553.2 130.15 L554.71 130.18 L556.23 130.19 L557.74 130.21 L559.25 130.23 L560.76 130.25 L562.27 130.26 L563.78 130.28 L565.29 130.3 L566.79 130.31 L568.3 130.32 L569.81 130.33 L571.31 130.35 L572.82 130.36 L574.32 130.37 L575.82 130.38 L577.32 130.39 L578.83 130.4 L580.33 130.4 L581.83 130.41 L583.33 130.42 L584.82 130.42 L586.32 130.43 L587.82 130.44 L589.32 130.44 L590.81 130.45 L592.31 130.45 L593.8 130.45 L595.3 130.46 L596.79 130.46 L598.29 130.46 L599.78 130.46 L601.27 130.46 L602.77 130.47 L604.26 130.47 L605.75 130.47 L607.24 130.47 L608.73 130.47 L610.22 130.47 L611.71 130.47 L613.2 130.47 L614.69 130.47 L616.18 130.47 L617.67 130.46 L619.15 130.46 L620.64 130.46 L622.13 130.46 L623.62 130.46 L625.1 130.46 L626.59 130.46 L628.08 130.45 L629.56 130.45 L631.05 130.45 L632.53 130.45 L634.02 130.45 L635.51 130.45 L636.99 130.44 L638.48 130.44 L639.96 130.44 L641.45 130.44 L642.93 130.44 L644.42 130.44 L645.9 130.44 L647.39 130.44 L648.87 130.44 L650.35 130.44 L651.84 130.44 L653.32 130.44 L654.81 130.44 L656.29 130.44 L657.78 130.44 L659.26 130.44 L660.75 130.45 L662.23 130.45 L663.72 130.45 L665.2 130.45 L666.69 130.46 L668.17 130.46 L669.66 130.47 L671.14 130.47 L672.63 130.48 L674.12 130.48 L675.6 130.49 L677.09 130.5 L678.58 130.5 L680.06 130.51 L681.55 130.52 L683.04 130.53 L684.52 130.54 L686.01 130.55 L687.5 130.56 L688.99 130.58 L690.48 130.59 L691.97 130.6 L693.46 130.62 L694.95 130.63 L696.44 130.65 L697.93 130.66 L699.42 130.68 L700.91 130.7 L702.41 130.72 L703.9 130.74 L705.39 130.76 L706.89 130.78 L708.38 130.8 L709.87 130.83 L711.37 130.85 L712.87 130.88 L714.36 130.9 L715.86 130.93 L717.36 130.96 L718.85 130.99 L720.35 131.02 L721.85 131.05 L723.35 131.08 L724.85 131.12 L726.35 131.15 L727.86 131.19 L729.36 131.23 L730.86 131.27 L732.37 131.31 L733.87 131.35 L735.38 131.39 L736.88 131.43 L738.39 131.48 L739.9 131.52 L741.41 131.57 L742.92 131.62 L744.43 131.67 L745.94 131.72 L747.45 131.77 L748.97 131.83 L750.48 131.88 L751.99 131.94 L753.51 132 L755.03 132.06 L756.54 132.12 L758.06 132.18 L759.58 132.24 L761.1 132.31 L762.62 132.38 L764.15 132.45 L765.67 132.52 L767.2 132.59 L768.72 132.66 L770.25 132.74 L771.78 132.81 L773.3 132.89 L774.83 132.97 L776.37 133.05 L777.9 133.14 L779.43 133.22 L780.97 133.31 L782.5 133.4" fill="none" stroke="#1b6ee0" stroke-width="5.1" stroke-linejoin="round"/>
<path d="M162.3 457 L162.92 455.68 L163.54 454.37 L164.16 453.05 L164.77 451.73 L165.39 450.41 L166 449.09 L166.61 447.77 L167.22 446.44 L167.82 445.11 L168.43 443.78 L169.03 442.45 L169.64 441.11 L170.24 439.77 L170.84 438.43 L171.44 437.09 L172.03 435.75 L172.63 434.41 L173.22 433.06 L173.82 431.71 L174.41 430.36 L175 429.01 L175.59 427.65 L176.18 426.3 L176.76 424.94 L177.35 423.58 L177.94 422.22 L178.52 420.86 L179.1 419.5 L179.69 418.13 L180.27 416.77 L180.85 415.4 L181.43 414.03 L182.01 412.66 L182.59 411.29 L183.16 409.91 L183.74 408.54 L184.32 407.16 L184.89 405.79 L185.47 404.41 L186.04 403.03 L186.61 401.65 L187.19 400.26 L187.76 398.88 L188.33 397.49 L188.9 396.11 L189.47 394.72 L190.05 393.33 L190.62 391.94 L191.19 390.55 L191.76 389.16 L192.33 387.77 L192.9 386.38 L193.47 384.98 L194.04 383.59 L194.6 382.19 L195.17 380.8 L195.74 379.4 L196.31 378 L196.88 376.6 L197.45 375.2 L198.02 373.8 L198.59 372.4 L199.16 371 L199.73 369.6 L200.3 368.2 L200.87 366.79 L201.44 365.39 L202.01 363.99 L202.58 362.58 L203.15 361.18 L203.72 359.77 L204.29 358.36 L204.87 356.96 L205.44 355.55 L206.01 354.14 L206.59 352.74 L207.16 351.33 L207.74 349.92 L208.31 348.51 L208.89 347.1 L209.47 345.69 L210.05 344.29 L210.62 342.88 L211.2 341.47 L211.78 340.06 L212.37 338.65 L212.95 337.24 L213.53 335.83 L214.11 334.42 L214.7 333.01 L215.29 331.61 L215.87 330.2 L216.46 328.79 L217.05 327.38 L217.64 325.97 L218.23 324.56 L218.83 323.16 L219.42 321.75 L220.02 320.34 L220.61 318.94 L221.21 317.53 L221.81 316.12 L222.41 314.72 L223.01 313.31 L223.62 311.91 L224.22 310.5 L224.83 309.1 L225.44 307.7 L226.05 306.29 L226.66 304.89 L227.27 303.49 L227.89 302.09 L228.5 300.69 L229.12 299.29 L229.74 297.89 L230.36 296.49 L230.99 295.1 L231.61 293.7 L232.24 292.31 L232.87 290.91 L233.5 289.52 L234.14 288.12 L234.77 286.73 L235.41 285.34 L236.05 283.95 L236.69 282.56 L237.33 281.17 L237.98 279.79 L238.63 278.4 L239.28 277.02 L239.93 275.63 L240.59 274.25 L241.24 272.87 L241.9 271.49 L242.57 270.11 L243.23 268.74 L243.9 267.36 L244.57 265.98 L245.24 264.61 L245.92 263.24 L246.59 261.87 L247.27 260.5 L247.96 259.13 L248.64 257.77 L249.33 256.4 L250.02 255.04 L250.72 253.68 L251.41 252.32 L252.11 250.96 L252.81 249.6 L253.52 248.25 L254.23 246.89 L254.94 245.54 L255.65 244.19 L256.37 242.85 L257.09 241.5 L257.81 240.16 L258.54 238.81 L259.27 237.47 L260 236.14 L260.74 234.8 L261.48 233.47 L262.22 232.13 L262.97 230.81 L263.72 229.48 L264.47 228.16 L265.23 226.83 L265.98 225.51 L266.75 224.2 L267.51 222.88 L268.29 221.57 L269.06 220.26 L269.84 218.96 L270.62 217.66 L271.4 216.36 L272.19 215.06 L272.98 213.77 L273.78 212.48 L274.58 211.19 L275.38 209.9 L276.19 208.62 L277 207.34 L277.82 206.07 L278.64 204.8 L279.46 203.53 L280.29 202.27 L281.12 201.01 L281.95 199.75 L282.79 198.5 L283.64 197.25 L284.48 196 L285.34 194.76 L286.19 193.52 L287.05 192.29 L287.92 191.06 L288.79 189.84 L289.66 188.61 L290.54 187.4 L291.42 186.18 L292.31 184.98 L293.2 183.77 L294.09 182.57 L294.99 181.38 L295.9 180.19 L296.81 179 L297.72 177.82 L298.64 176.64 L299.57 175.47 L300.5 174.3 L301.43 173.14 L302.37 171.98 L303.31 170.83 L304.26 169.68 L305.21 168.54 L306.17 167.4 L307.13 166.27 L308.1 165.14 L309.07 164.02 L310.05 162.9 L311.03 161.79 L312.02 160.69 L313.01 159.59 L314.01 158.49 L315.01 157.4 L316.02 156.32 L317.04 155.24 L318.06 154.17 L319.08 153.1 L320.11 152.04 L321.15 150.99 L322.19 149.94 L323.23 148.9 L324.28 147.86 L325.34 146.83 L326.41 145.81 L327.47 144.79 L328.55 143.78 L329.63 142.78 L330.71 141.78 L331.81 140.79 L332.9 139.8 L334.01 138.83 L335.11 137.85 L336.23 136.89 L337.35 135.93 L338.48 134.98 L339.61 134.04 L340.75 133.1 L341.89 132.17 L343.04 131.24 L344.2 130.33 L345.36 129.42 L346.53 128.52 L347.7 127.62 L348.88 126.74 L350.07 125.86 L351.26 124.98 L352.45 124.12 L353.66 123.26 L354.87 122.41 L356.08 121.57 L357.3 120.74 L358.53 119.91 L359.76 119.09 L360.99 118.28 L362.23 117.48 L363.48 116.69 L364.73 115.9 L365.99 115.13 L367.26 114.36 L368.53 113.6 L369.8 112.85 L371.08 112.1 L372.36 111.37 L373.65 110.64 L374.95 109.92 L376.25 109.22 L377.55 108.52 L378.86 107.83 L380.18 107.14 L381.5 106.47 L382.83 105.81 L384.16 105.15 L385.49 104.51 L386.83 103.87 L388.18 103.25 L389.53 102.63 L390.88 102.02 L392.24 101.42 L393.6 100.83 L394.97 100.26 L396.35 99.69 L397.72 99.13 L399.11 98.58 L400.49 98.04 L401.88 97.51 L403.28 96.99 L404.68 96.48 L406.09 95.98 L407.5 95.49 L408.91 95.02 L410.33 94.55 L411.75 94.09 L413.18 93.64 L414.61 93.21 L416.04 92.78 L417.48 92.37 L418.93 91.96 L420.37 91.57 L421.82 91.19 L423.28 90.82 L424.74 90.46 L426.2 90.11 L427.67 89.77 L429.14 89.44 L430.62 89.13 L432.1 88.82 L433.58 88.53 L435.07 88.25 L436.56 87.98 L438.05 87.72 L439.55 87.47 L441.05 87.24 L442.56 87.02 L444.07 86.81 L445.58 86.61 L447.1 86.42 L448.61 86.24 L450.14 86.08 L451.66 85.93 L453.19 85.79 L454.73 85.67 L456.26 85.55 L457.8 85.45 L459.35 85.36 L460.89 85.29 L462.44 85.22 L464 85.17 L465.55 85.14 L467.11 85.11 L468.67 85.1 L470.24 85.1 L471.81 85.11 L473.38 85.14 L474.95 85.18 L476.53 85.23 L478.11 85.3 L481.5 88.2 L484.1 88.8 L485.61 88.71 L487.12 88.62 L488.63 88.53 L490.14 88.45 L491.65 88.37 L493.15 88.3 L494.66 88.23 L496.17 88.16 L497.68 88.1 L499.19 88.04 L500.7 87.98 L502.21 87.93 L503.71 87.88 L505.22 87.83 L506.73 87.79 L508.24 87.74 L509.75 87.71 L511.26 87.67 L512.76 87.64 L514.27 87.61 L515.78 87.59 L517.29 87.56 L518.8 87.55 L520.3 87.53 L521.81 87.52 L523.32 87.5 L524.83 87.5 L526.34 87.49 L527.84 87.49 L529.35 87.49 L530.86 87.49 L532.37 87.5 L533.87 87.51 L535.38 87.52 L536.89 87.53 L538.4 87.55 L539.9 87.57 L541.41 87.59 L542.92 87.61 L544.43 87.64 L545.93 87.67 L547.44 87.7 L548.95 87.73 L550.45 87.76 L551.96 87.8 L553.47 87.84 L554.97 87.88 L556.48 87.93 L557.99 87.98 L559.5 88.02 L561 88.07 L562.51 88.13 L564.02 88.18 L565.52 88.24 L567.03 88.3 L568.54 88.36 L570.04 88.42 L571.55 88.48 L573.06 88.55 L574.56 88.62 L576.07 88.69 L577.58 88.76 L579.08 88.83 L580.59 88.91 L582.09 88.98 L583.6 89.06 L585.11 89.14 L586.61 89.22 L588.12 89.31 L589.63 89.39 L591.13 89.48 L592.64 89.56 L594.15 89.65 L595.65 89.74 L597.16 89.83 L598.66 89.93 L600.17 90.02 L601.68 90.11 L603.18 90.21 L604.69 90.31 L606.19 90.41 L607.7 90.51 L609.21 90.61 L610.71 90.71 L612.22 90.81 L613.73 90.91 L615.23 91.02 L616.74 91.12 L618.24 91.23 L619.75 91.34 L621.26 91.45 L622.76 91.56 L624.27 91.67 L625.77 91.78 L627.28 91.89 L628.79 92 L630.29 92.11 L631.8 92.22 L633.3 92.34 L634.81 92.45 L636.32 92.57 L637.82 92.68 L639.33 92.8 L640.83 92.91 L642.34 93.03 L643.85 93.15 L645.35 93.26 L646.86 93.38 L648.36 93.5 L649.87 93.62 L651.38 93.73 L652.88 93.85 L654.39 93.97 L655.89 94.09 L657.4 94.21 L658.91 94.33 L660.41 94.45 L661.92 94.56 L663.43 94.68 L664.93 94.8 L666.44 94.92 L667.94 95.04 L669.45 95.16 L670.96 95.27 L672.46 95.39 L673.97 95.51 L675.47 95.62 L676.98 95.74 L678.49 95.86 L679.99 95.97 L681.5 96.09 L683.01 96.2 L684.51 96.32 L686.02 96.43 L687.53 96.55 L689.03 96.66 L690.54 96.77 L692.04 96.88 L693.55 96.99 L695.06 97.1 L696.56 97.21 L698.07 97.32 L699.58 97.43 L701.08 97.54 L702.59 97.64 L704.1 97.75 L705.6 97.85 L707.11 97.95 L708.62 98.06 L710.12 98.16 L711.63 98.26 L713.14 98.36 L714.65 98.46 L716.15 98.55 L717.66 98.65 L719.17 98.74 L720.67 98.84 L722.18 98.93 L723.69 99.02 L725.19 99.11 L726.7 99.2 L728.21 99.28 L729.72 99.37 L731.22 99.45 L732.73 99.53 L734.24 99.61 L735.75 99.69 L737.25 99.77 L738.76 99.85 L740.27 99.92 L741.78 99.99 L743.28 100.06 L744.79 100.13 L746.3 100.2 L747.81 100.26 L749.31 100.33 L750.82 100.39 L752.33 100.45 L753.84 100.51 L755.35 100.56 L756.85 100.62 L758.36 100.67 L759.87 100.72 L761.38 100.77 L762.89 100.81 L764.4 100.86 L765.9 100.9 L767.41 100.94 L768.92 100.97 L770.43 101.01 L771.94 101.04 L773.45 101.07 L774.96 101.1 L776.46 101.12 L777.97 101.14 L779.48 101.16 L780.99 101.18 L782.5 101.2" fill="none" stroke="#1b6ee0" stroke-width="5.1" stroke-linejoin="round"/>
<line x1="287.0" y1="167.6" x2="164.4" y2="457" stroke="#ee3d3e" stroke-width="3.6" stroke-dasharray="20 16.3"/>
<line x1="633.9" y1="112.3" x2="670.1" y2="106.21" stroke="#ee3d3e" stroke-width="3.6"/>
<path d="M698.7 101.4 L669.42 114.23 L666.84 98.85 Z" fill="#ee3d3e"/>
<line x1="638.3" y1="350.8" x2="655.65" y2="361.25" stroke="#ee3d3e" stroke-width="3.6"/>
<path d="M680.5 376.2 L649.92 366.9 L657.96 353.53 Z" fill="#ee3d3e"/>
<line x1="253.2" y1="387.4" x2="228.42" y2="375.69" stroke="#ee3d3e" stroke-width="3.6"/>
<path d="M202.2 363.3 L233.56 369.49 L226.9 383.6 Z" fill="#ee3d3e"/>
<text transform="translate(173.1 53.9)" font-size="58.17" fill="#000">(a)</text>
<text transform="translate(322.11 57.3) scale(1 1.0350)" font-size="41.8" fill="#000">V</text>
<text transform="translate(349.83 67.5)" font-size="28.6" fill="#000">gs</text>
<text transform="translate(394.57 57.3) scale(1 1.0350)" font-size="41.8" fill="#000">= -5 ~</text>
<path transform="translate(515.39 57.3) scale(0.02041 -0.02112)" d="M566 0L852 0L852 1409L620 1409Q430 1182 190 1039L190 803Q400 884 566 1010Z" fill="#000"/>
<text transform="translate(550.25 57.3) scale(1 1.0350)" font-size="41.8" fill="#000">V,</text>
<text transform="translate(627.11 57.3) scale(1 1.0350)" font-size="41.8" fill="#000">V = +</text>
<path transform="translate(727.04 57.3) scale(0.02041 -0.02112)" d="M566 0L852 0L852 1409L620 1409Q430 1182 190 1039L190 803Q400 884 566 1010Z" fill="#000"/>
<text transform="translate(750.29 57.3) scale(1 1.0350)" font-size="41.8" fill="#000">V</text>
<path d="M614 28.9 L626.7 57.9 L601.3 57.9 Z M614 37.6 L606.7 54.3 L621.3 54.3 Z" fill="#000" fill-rule="evenodd"/>
<text transform="translate(408.11 121.5)" font-size="31.68" fill="#000">thermal effects</text>
<text transform="translate(544.02 345.9) scale(1 1.0400)" font-size="37.6" fill="#000">SCEs</text>
<text transform="translate(263.06 401.4) scale(1 1.0400)" font-size="36.5" fill="#000">R</text>
<text transform="translate(290.68 412.5)" font-size="26.06" fill="#000">on</text>
<text transform="translate(329.19 402.4) scale(1 1.0400)" font-size="36.5" fill="#000">=</text>
<path transform="translate(360.64 402.4) scale(0.01782 -0.01854)" d="M566 0L852 0L852 1409L620 1409Q430 1182 190 1039L190 803Q400 884 566 1010Z" fill="#000"/>
<text transform="translate(380.94 402.4) scale(1 1.0400)" font-size="36.5" fill="#000">.33</text>
<text transform="translate(443.59 402.6) scale(1.114 1)" font-size="40" fill="#000" style="font-family:'Liberation Serif',serif;font-weight:normal">Ω</text>
<text transform="translate(474 402.4)" font-size="36.5" fill="#000">·mm</text>
<text transform="translate(87.53 90.3) scale(1 1.0400)" font-size="44" fill="#000">2.0</text>
<path transform="translate(87.53 185.9) scale(0.02148 -0.02234)" d="M566 0L852 0L852 1409L620 1409Q430 1182 190 1039L190 803Q400 884 566 1010Z" fill="#000"/>
<text transform="translate(112 185.9) scale(1 1.0400)" font-size="44" fill="#000">.5</text>
<path transform="translate(87.53 281.5) scale(0.02148 -0.02234)" d="M566 0L852 0L852 1409L620 1409Q430 1182 190 1039L190 803Q400 884 566 1010Z" fill="#000"/>
<text transform="translate(112 281.5) scale(1 1.0400)" font-size="44" fill="#000">.0</text>
<text transform="translate(87.53 377.1) scale(1 1.0400)" font-size="44" fill="#000">0.5</text>
<text transform="translate(87.53 472.7) scale(1 1.0400)" font-size="44" fill="#000">0.0</text>
<text transform="translate(150.37 502.5) scale(1 1.0400)" font-size="44.7" fill="#000">0</text>
<text transform="translate(275.03 502.5) scale(1 1.0400)" font-size="44.7" fill="#000">2</text>
<text transform="translate(399.69 502.5) scale(1 1.0400)" font-size="44.7" fill="#000">4</text>
<text transform="translate(524.35 502.5) scale(1 1.0400)" font-size="44.7" fill="#000">6</text>
<text transform="translate(649.01 502.5) scale(1 1.0400)" font-size="44.7" fill="#000">8</text>
<path transform="translate(761.24 502.5) scale(0.02183 -0.02270)" d="M566 0L852 0L852 1409L620 1409Q430 1182 190 1039L190 803Q400 884 566 1010Z" fill="#000"/>
<text transform="translate(786.1 502.5) scale(1 1.0400)" font-size="44.7" fill="#000">0</text>
<text transform="translate(410.88 554) scale(1 1.0450)" font-size="46.5" fill="#000">V</text>
<text transform="translate(440.89 569.4)" font-size="32" fill="#000">ds</text>
<text transform="translate(478.64 554)" font-size="45.32" fill="#000">(V)</text>
<g transform="translate(47 341.1) rotate(-90)">
<text transform="translate(0 0) scale(1 1.0400)" font-size="51.75" fill="#000">I</text>
<text transform="translate(14.1 13.6)" font-size="35" fill="#000">d</text>
<text transform="translate(50.5 0) scale(1 1.0200)" font-size="51.75" fill="#000">(A/mm)</text>
</g>
<defs><clipPath id="cb"><rect x="150" y="560" width="640" height="485.3"/></clipPath></defs>
<g clip-path="url(#cb)">
<path d="M231.25 1015.86L233.29 1001.31M235.42 983.64L237.82 962.31M248.49 923.62L260.1 775.4M267.18 750.17L268.73 739.81M272.15 722.24L273.01 718.22M290.05 676.85L290.37 675.42M445.73 788.23L446.09 789.77M520.56 815.61L521.38 819.62M609.25 838.94L609.94 842.18" fill="none" stroke="#38ac69" stroke-width="1.3"/>
<path d="M159.9 1038.7h12.2v12.2h-12.2zM164.3 1038.7h12.2v12.2h-12.2zM168.7 1038.7h12.2v12.2h-12.2zM173.1 1038.7h12.2v12.2h-12.2zM177.5 1038.7h12.2v12.2h-12.2zM181.9 1038.7h12.2v12.2h-12.2zM186.3 1038.7h12.2v12.2h-12.2zM190.7 1038.5h12.2v12.2h-12.2zM195.1 1038.1h12.2v12.2h-12.2zM199.5 1037.3h12.2v12.2h-12.2zM203.9 1036.7h12.2v12.2h-12.2zM208.3 1036h12.2v12.2h-12.2zM212.7 1034.1h12.2v12.2h-12.2zM217.1 1030.4h12.2v12.2h-12.2zM223.4 1022.3h12.2v12.2h-12.2zM227.9 990.1h12.2v12.2h-12.2zM232.3 951.1h12.2v12.2h-12.2zM236.8 940.3h12.2v12.2h-12.2zM241.4 930.1h12.2v12.2h-12.2zM254.4 764.2h12.2v12.2h-12.2zM259.2 756.6h12.2v12.2h-12.2zM263.4 728.6h12.2v12.2h-12.2zM268 707h12.2v12.2h-12.2zM272.7 708.3h12.2v12.2h-12.2zM276.4 695.6h12.2v12.2h-12.2zM281.2 683.2h12.2v12.2h-12.2zM285.4 664.2h12.2v12.2h-12.2zM290 661.7h12.2v12.2h-12.2zM293.9 676.1h12.2v12.2h-12.2zM299 677.8h12.2v12.2h-12.2zM303.6 692.7h12.2v12.2h-12.2zM321.3 693.3h12.2v12.2h-12.2zM325.6 703.2h12.2v12.2h-12.2zM330.1 701.4h12.2v12.2h-12.2zM334.5 702.4h12.2v12.2h-12.2zM339.2 703.5h12.2v12.2h-12.2zM343.7 701.9h12.2v12.2h-12.2zM348.1 699.9h12.2v12.2h-12.2zM352.4 699.3h12.2v12.2h-12.2zM356.9 702.4h12.2v12.2h-12.2zM361.3 704.2h12.2v12.2h-12.2zM365.8 707.7h12.2v12.2h-12.2zM370 707.2h12.2v12.2h-12.2zM374.4 709.9h12.2v12.2h-12.2zM378.7 714.7h12.2v12.2h-12.2zM383.4 732.3h12.2v12.2h-12.2zM387.9 732.9h12.2v12.2h-12.2zM392.2 733.4h12.2v12.2h-12.2zM396.4 734.4h12.2v12.2h-12.2zM401.1 748.8h12.2v12.2h-12.2zM405.6 761.2h12.2v12.2h-12.2zM410.1 758.9h12.2v12.2h-12.2zM414.5 758.3h12.2v12.2h-12.2zM418.9 765.3h12.2v12.2h-12.2zM423.8 769.1h12.2v12.2h-12.2zM428.2 776.1h12.2v12.2h-12.2zM432.5 772.9h12.2v12.2h-12.2zM436.7 769.7h12.2v12.2h-12.2zM441.2 788.8h12.2v12.2h-12.2zM446.3 790.1h12.2v12.2h-12.2zM450.1 782.5h12.2v12.2h-12.2zM454.5 788.2h12.2v12.2h-12.2zM459.1 791.9h12.2v12.2h-12.2zM463.8 797.7h12.2v12.2h-12.2zM468.1 790.9h12.2v12.2h-12.2zM472.3 786.3h12.2v12.2h-12.2zM476.8 800.9h12.2v12.2h-12.2zM481.2 803.4h12.2v12.2h-12.2zM486.1 793.3h12.2v12.2h-12.2zM490.2 793.9h12.2v12.2h-12.2zM494.3 795.2h12.2v12.2h-12.2zM498.6 798.9h12.2v12.2h-12.2zM502.8 803.8h12.2v12.2h-12.2zM507.4 795.6h12.2v12.2h-12.2zM511.9 797.04h12.2v12.2h-12.2zM516.33 818.64h12.2v12.2h-12.2zM520.76 806.23h12.2v12.2h-12.2zM525.19 816.87h12.2v12.2h-12.2zM529.62 811.74h12.2v12.2h-12.2zM534.05 814.59h12.2v12.2h-12.2zM538.48 811.11h12.2v12.2h-12.2zM542.91 813.44h12.2v12.2h-12.2zM547.34 808.91h12.2v12.2h-12.2zM551.77 811.88h12.2v12.2h-12.2zM556.2 808.51h12.2v12.2h-12.2zM560.63 811.16h12.2v12.2h-12.2zM565.06 809.16h12.2v12.2h-12.2zM569.49 811.04h12.2v12.2h-12.2zM573.92 810.2h12.2v12.2h-12.2zM578.35 812.41h12.2v12.2h-12.2zM582.78 810.68h12.2v12.2h-12.2zM587.21 823.4h12.2v12.2h-12.2zM591.64 815.24h12.2v12.2h-12.2zM596.07 832.73h12.2v12.2h-12.2zM600.5 820.38h12.2v12.2h-12.2zM604.93 841.2h12.2v12.2h-12.2zM609.36 831.69h12.2v12.2h-12.2zM613.79 841.2h12.2v12.2h-12.2zM618.22 830.22h12.2v12.2h-12.2zM622.65 834.99h12.2v12.2h-12.2zM627.08 830.45h12.2v12.2h-12.2zM631.51 838.76h12.2v12.2h-12.2zM635.94 835.35h12.2v12.2h-12.2zM640.37 842.15h12.2v12.2h-12.2zM644.8 835.85h12.2v12.2h-12.2zM649.23 845.07h12.2v12.2h-12.2zM653.66 841.97h12.2v12.2h-12.2zM658.09 847.52h12.2v12.2h-12.2zM662.52 843.82h12.2v12.2h-12.2zM666.95 848h12.2v12.2h-12.2zM671.38 844.36h12.2v12.2h-12.2zM675.81 855.2h12.2v12.2h-12.2zM680.24 848.41h12.2v12.2h-12.2zM684.67 854.19h12.2v12.2h-12.2zM689.1 849.23h12.2v12.2h-12.2zM693.53 864.39h12.2v12.2h-12.2zM697.96 862.11h12.2v12.2h-12.2zM702.39 869.8h12.2v12.2h-12.2zM706.82 864.13h12.2v12.2h-12.2zM711.25 869.8h12.2v12.2h-12.2zM715.68 866.34h12.2v12.2h-12.2zM720.11 868.27h12.2v12.2h-12.2zM724.54 866.72h12.2v12.2h-12.2zM728.97 869.76h12.2v12.2h-12.2zM733.4 867.57h12.2v12.2h-12.2zM737.83 871.62h12.2v12.2h-12.2zM742.26 868.9h12.2v12.2h-12.2zM746.69 873.49h12.2v12.2h-12.2zM751.12 870.23h12.2v12.2h-12.2zM755.55 875.27h12.2v12.2h-12.2zM759.98 873.26h12.2v12.2h-12.2zM764.41 876.88h12.2v12.2h-12.2zM768.84 872.4h12.2v12.2h-12.2z" fill="#38ac69"/>
</g>
<path d="M162.4 1041 L222 1041 L232 1040 L240 1038.2 L246 1037.2 L250.1 1035.4 L252.2 1033.2 L252.21 1033.21 L253.28 1032.16 L254.35 1031.12 L255.43 1030.07 L256.5 1029.03 L257.57 1027.99 L258.65 1026.94 L259.73 1025.9 L260.8 1024.86 L261.88 1023.82 L262.96 1022.78 L264.04 1021.74 L265.12 1020.7 L266.2 1019.66 L267.28 1018.63 L268.37 1017.59 L269.45 1016.55 L270.54 1015.52 L271.62 1014.49 L272.71 1013.45 L273.8 1012.42 L274.89 1011.39 L275.98 1010.36 L277.07 1009.32 L278.16 1008.29 L279.26 1007.27 L280.35 1006.24 L281.44 1005.21 L282.54 1004.18 L283.64 1003.16 L284.73 1002.13 L285.83 1001.11 L286.93 1000.08 L288.03 999.06 L289.13 998.04 L290.24 997.02 L291.34 996 L292.44 994.98 L293.55 993.96 L294.65 992.94 L295.76 991.92 L296.87 990.9 L297.98 989.89 L299.08 988.87 L300.2 987.86 L301.31 986.84 L302.42 985.83 L303.53 984.82 L304.65 983.81 L305.76 982.8 L306.88 981.79 L307.99 980.78 L309.11 979.77 L310.23 978.77 L311.35 977.76 L312.47 976.75 L313.59 975.75 L314.71 974.75 L315.83 973.74 L316.96 972.74 L318.08 971.74 L319.21 970.74 L320.33 969.74 L321.46 968.74 L322.59 967.75 L323.72 966.75 L324.85 965.75 L325.98 964.76 L327.11 963.76 L328.24 962.77 L329.38 961.78 L330.51 960.79 L331.65 959.8 L332.78 958.81 L333.92 957.82 L335.06 956.83 L336.2 955.84 L337.33 954.86 L338.48 953.87 L339.62 952.89 L340.76 951.91 L341.9 950.92 L343.05 949.94 L344.19 948.96 L345.34 947.98 L346.48 947 L347.63 946.03 L348.78 945.05 L349.93 944.08 L351.08 943.1 L352.23 942.13 L353.38 941.15 L354.53 940.18 L355.69 939.21 L356.84 938.24 L358 937.27 L359.15 936.31 L360.31 935.34 L361.47 934.37 L362.62 933.41 L363.78 932.44 L364.94 931.48 L366.1 930.52 L367.27 929.56 L368.43 928.6 L369.59 927.64 L370.76 926.68 L371.92 925.72 L373.09 924.77 L374.26 923.81 L375.42 922.86 L376.59 921.91 L377.76 920.96 L378.93 920 L380.1 919.05 L381.28 918.11 L382.45 917.16 L383.62 916.21 L384.8 915.27 L385.97 914.32 L387.15 913.38 L388.33 912.44 L389.5 911.49 L390.68 910.55 L391.86 909.62 L393.04 908.68 L394.22 907.74 L395.41 906.8 L396.59 905.87 L397.77 904.94 L398.96 904 L400.14 903.07 L401.33 902.14 L402.52 901.21 L403.7 900.28 L404.89 899.36 L406.08 898.43 L407.27 897.51 L408.46 896.58 L409.65 895.66 L410.85 894.74 L412.04 893.82 L413.24 892.9 L414.43 891.98 L415.63 891.06 L416.82 890.15 L418.02 889.23 L419.22 888.32 L420.42 887.41 L421.62 886.49 L422.82 885.58 L424.02 884.67 L425.22 883.77 L426.43 882.86 L427.63 881.95 L428.83 881.05 L430.04 880.15 L431.25 879.24 L432.45 878.34 L433.66 877.44 L434.87 876.55 L436.08 875.65 L437.29 874.75 L438.5 873.86 L439.71 872.96 L440.93 872.07 L442.14 871.18 L443.35 870.29 L444.57 869.4 L445.79 868.51 L447 867.63 L448.22 866.74 L449.44 865.86 L450.66 864.97 L451.88 864.09 L453.1 863.21 L454.32 862.33 L455.54 861.46 L456.76 860.58 L457.99 859.7 L459.21 858.83 L460.44 857.96 L461.66 857.09 L462.89 856.22 L464.12 855.35 L465.35 854.48 L466.58 853.61 L467.81 852.75 L469.04 851.88 L470.27 851.02 L471.5 850.16 L472.73 849.3 L473.97 848.44 L475.2 847.58 L476.44 846.73 L477.67 845.87 L478.91 845.02 L480.15 844.17 L481.39 843.31 L482.62 842.46 L483.86 841.62 L485.1 840.77 L486.35 839.92 L487.59 839.08 L488.83 838.23 L490.07 837.39 L491.32 836.55 L492.56 835.71 L493.81 834.87 L495.06 834.04 L496.3 833.2 L497.55 832.36 L498.8 831.53 L500.05 830.7 L501.3 829.87 L502.55 829.04 L503.8 828.21 L505.06 827.38 L506.31 826.56 L507.56 825.73 L508.82 824.91 L510.07 824.08 L511.33 823.26 L512.59 822.44 L513.84 821.62 L515.1 820.81 L516.36 819.99 L517.62 819.18 L518.88 818.36 L520.14 817.55 L521.41 816.74 L522.67 815.93 L523.93 815.12 L525.2 814.31 L526.46 813.5 L527.73 812.7 L528.99 811.89 L530.26 811.09 L531.53 810.29 L532.79 809.49 L534.06 808.69 L535.33 807.89 L536.6 807.09 L537.88 806.29 L539.15 805.5 L540.42 804.71 L541.69 803.91 L542.97 803.12 L544.24 802.33 L545.52 801.54 L546.79 800.75 L548.07 799.97 L549.35 799.18 L550.63 798.4 L551.9 797.61 L553.18 796.83 L554.46 796.05 L555.75 795.27 L557.03 794.49 L558.31 793.71 L559.59 792.94 L560.88 792.16 L562.16 791.39 L563.45 790.61 L564.73 789.84 L566.02 789.07 L567.31 788.3 L568.59 787.53 L569.88 786.76 L571.17 786 L572.46 785.23 L573.75 784.47 L575.04 783.7 L576.33 782.94 L577.63 782.18 L578.92 781.42 L580.21 780.66 L581.51 779.9 L582.8 779.15 L584.1 778.39 L585.39 777.64 L586.69 776.88 L587.99 776.13 L589.29 775.38 L590.59 774.63 L591.89 773.88 L593.19 773.13 L594.49 772.38 L595.79 771.64 L597.09 770.89 L598.4 770.15 L599.7 769.41 L601 768.66 L602.31 767.92 L603.61 767.18 L604.92 766.44 L606.23 765.71 L607.53 764.97 L608.84 764.23 L610.15 763.5 L611.46 762.77 L612.77 762.03 L614.08 761.3 L615.39 760.57 L616.7 759.84 L618.02 759.11 L619.33 758.39 L620.64 757.66 L621.96 756.94 L623.27 756.21 L624.59 755.49 L625.91 754.77 L627.22 754.04 L628.54 753.32 L629.86 752.6 L631.18 751.89 L632.5 751.17 L633.82 750.45 L635.14 749.74 L636.46 749.02 L637.78 748.31 L639.1 747.6 L640.43 746.89 L641.75 746.18 L643.07 745.47 L644.4 744.76 L645.72 744.05 L647.05 743.34 L648.38 742.64 L649.7 741.94 L651.03 741.23 L652.36 740.53 L653.69 739.83 L655.02 739.13 L656.35 738.43 L657.68 737.73 L659.01 737.03 L660.34 736.33 L661.68 735.64 L663.01 734.94 L664.34 734.25 L665.68 733.56 L667.01 732.86 L668.35 732.17 L669.68 731.48 L671.02 730.79 L672.36 730.1 L673.7 729.42 L675.04 728.73 L676.37 728.04 L677.71 727.36 L679.05 726.68 L680.4 725.99 L681.74 725.31 L683.08 724.63 L684.42 723.95 L685.76 723.27 L687.11 722.59 L688.45 721.91 L689.8 721.24 L691.14 720.56 L692.49 719.89 L693.83 719.21 L695.18 718.54 L696.53 717.87 L697.88 717.2 L699.23 716.53 L700.58 715.86 L701.93 715.19 L703.28 714.52 L704.63 713.85 L705.98 713.19 L707.33 712.52 L708.68 711.86 L710.04 711.2 L711.39 710.53 L712.74 709.87 L714.1 709.21 L715.45 708.55 L716.81 707.89 L718.17 707.23 L719.52 706.58 L720.88 705.92 L722.24 705.26 L723.6 704.61 L724.96 703.95 L726.32 703.3 L727.68 702.65 L729.04 702 L730.4 701.35 L731.76 700.7 L733.12 700.05 L734.49 699.4 L735.85 698.75 L737.21 698.1 L738.58 697.46 L739.94 696.81 L741.31 696.17 L742.67 695.53 L744.04 694.88 L745.41 694.24 L746.77 693.6 L748.14 692.96 L749.51 692.32 L750.88 691.68 L752.25 691.04 L753.62 690.41 L754.99 689.77 L756.36 689.13 L757.73 688.5 L759.1 687.87 L760.48 687.23 L761.85 686.6 L763.22 685.97 L764.6 685.34 L765.97 684.71 L767.35 684.08 L768.72 683.45 L770.1 682.82 L771.48 682.19 L772.85 681.57 L774.23 680.94 L775.61 680.32 L776.99 679.69 L778.37 679.07 L779.74 678.45 L781.12 677.83 L782.51 677.2" fill="none" stroke="#1b6ee0" stroke-width="4.8" stroke-linejoin="round"/>
<line x1="206.69" y1="1041" x2="206.69" y2="1032" stroke="#000" stroke-width="4.4"/>
<line x1="250.99" y1="1041" x2="250.99" y2="1028" stroke="#000" stroke-width="4.4"/>
<line x1="295.28" y1="1041" x2="295.28" y2="1032" stroke="#000" stroke-width="4.4"/>
<line x1="339.57" y1="1041" x2="339.57" y2="1028" stroke="#000" stroke-width="4.4"/>
<line x1="383.86" y1="1041" x2="383.86" y2="1032" stroke="#000" stroke-width="4.4"/>
<line x1="428.16" y1="1041" x2="428.16" y2="1028" stroke="#000" stroke-width="4.4"/>
<line x1="472.45" y1="1041" x2="472.45" y2="1032" stroke="#000" stroke-width="4.4"/>
<line x1="516.74" y1="1041" x2="516.74" y2="1028" stroke="#000" stroke-width="4.4"/>
<line x1="561.04" y1="1041" x2="561.04" y2="1032" stroke="#000" stroke-width="4.4"/>
<line x1="605.33" y1="1041" x2="605.33" y2="1028" stroke="#000" stroke-width="4.4"/>
<line x1="649.62" y1="1041" x2="649.62" y2="1032" stroke="#000" stroke-width="4.4"/>
<line x1="693.91" y1="1041" x2="693.91" y2="1028" stroke="#000" stroke-width="4.4"/>
<line x1="738.21" y1="1041" x2="738.21" y2="1032" stroke="#000" stroke-width="4.4"/>
<line x1="162.4" y1="1003" x2="171.4" y2="1003" stroke="#000" stroke-width="4.4"/>
<line x1="162.4" y1="965" x2="175.4" y2="965" stroke="#000" stroke-width="4.4"/>
<line x1="162.4" y1="927" x2="171.4" y2="927" stroke="#000" stroke-width="4.4"/>
<line x1="162.4" y1="889" x2="175.4" y2="889" stroke="#000" stroke-width="4.4"/>
<line x1="162.4" y1="851" x2="171.4" y2="851" stroke="#000" stroke-width="4.4"/>
<line x1="162.4" y1="813" x2="175.4" y2="813" stroke="#000" stroke-width="4.4"/>
<line x1="162.4" y1="775" x2="171.4" y2="775" stroke="#000" stroke-width="4.4"/>
<line x1="162.4" y1="737" x2="175.4" y2="737" stroke="#000" stroke-width="4.4"/>
<line x1="162.4" y1="699" x2="171.4" y2="699" stroke="#000" stroke-width="4.4"/>
<line x1="162.4" y1="661" x2="175.4" y2="661" stroke="#000" stroke-width="4.4"/>
<line x1="162.4" y1="623" x2="171.4" y2="623" stroke="#000" stroke-width="4.4"/>
<path d="M782.5 585 L162.4 585 L162.4 1041 L782.5 1041" fill="none" stroke="#000" stroke-width="4.4" stroke-linejoin="miter" stroke-linecap="square"/>
<line x1="782.5" y1="1041" x2="769.5" y2="1041" stroke="#1b6ee0" stroke-width="4.4"/>
<line x1="782.5" y1="995.4" x2="773.5" y2="995.4" stroke="#1b6ee0" stroke-width="4.4"/>
<line x1="782.5" y1="949.8" x2="769.5" y2="949.8" stroke="#1b6ee0" stroke-width="4.4"/>
<line x1="782.5" y1="904.2" x2="773.5" y2="904.2" stroke="#1b6ee0" stroke-width="4.4"/>
<line x1="782.5" y1="858.6" x2="769.5" y2="858.6" stroke="#1b6ee0" stroke-width="4.4"/>
<line x1="782.5" y1="813" x2="773.5" y2="813" stroke="#1b6ee0" stroke-width="4.4"/>
<line x1="782.5" y1="767.4" x2="769.5" y2="767.4" stroke="#1b6ee0" stroke-width="4.4"/>
<line x1="782.5" y1="721.8" x2="773.5" y2="721.8" stroke="#1b6ee0" stroke-width="4.4"/>
<line x1="782.5" y1="676.2" x2="769.5" y2="676.2" stroke="#1b6ee0" stroke-width="4.4"/>
<line x1="782.5" y1="630.6" x2="773.5" y2="630.6" stroke="#1b6ee0" stroke-width="4.4"/>
<line x1="782.5" y1="585" x2="769.5" y2="585" stroke="#1b6ee0" stroke-width="4.4"/>
<line x1="782.5" y1="585" x2="782.5" y2="1041" stroke="#1b6ee0" stroke-width="4.4" stroke-linecap="square"/>
<ellipse cx="253.75" cy="815.35" rx="7.65" ry="28.15" fill="none" stroke="#000" stroke-width="3.8"/>
<line x1="253.75" y1="787.2" x2="226" y2="787.2" stroke="#000" stroke-width="3.8"/>
<path d="M197.2 787.3 L228.6 779.4 L228.6 795.1 Z" fill="#000"/>
<ellipse cx="664.4" cy="739.8" rx="7.75" ry="27.7" fill="none" stroke="#000" stroke-width="3.8"/>
<line x1="664.4" y1="767.4" x2="694" y2="767.4" stroke="#000" stroke-width="3.8"/>
<path d="M723.2 767.3 L691.9 759.9 L691.9 774.7 Z" fill="#000"/>
<text transform="translate(170.44 641.7)" font-size="57.51" fill="#000">(b)</text>
<text transform="translate(305.58 645.4)" font-size="44.3" fill="#000">g</text>
<text transform="translate(331.95 658.3)" font-size="29.57" fill="#000">m,peak</text>
<text transform="translate(434.57 646) scale(1 1.0400)" font-size="44.11" fill="#000">= 493mS/mm</text>
<text transform="translate(550.27 1008.2) scale(1 1.0500)" font-size="48.5" fill="#000">V</text>
<text transform="translate(581.02 1019.6)" font-size="33.64" fill="#000">ds</text>
<text transform="translate(629.41 1008.2) scale(1 1.0500)" font-size="47.86" fill="#000">=</text>
<path transform="translate(670.66 1008.2) scale(0.02337 -0.02454)" d="M566 0L852 0L852 1409L620 1409Q430 1182 190 1039L190 803Q400 884 566 1010Z" fill="#000"/>
<text transform="translate(697.28 1008.2) scale(1 1.0500)" font-size="47.86" fill="#000">0 V</text>
<text transform="translate(75.35 600.3) scale(1 1.0500)" font-size="43.9" fill="#000">600</text>
<text transform="translate(75.35 676.62) scale(1 1.0500)" font-size="43.9" fill="#000">500</text>
<text transform="translate(75.35 752.94) scale(1 1.0500)" font-size="43.9" fill="#000">400</text>
<text transform="translate(75.35 829.26) scale(1 1.0500)" font-size="43.9" fill="#000">300</text>
<text transform="translate(75.35 905.58) scale(1 1.0500)" font-size="43.9" fill="#000">200</text>
<path transform="translate(75.35 981.9) scale(0.02144 -0.02251)" d="M566 0L852 0L852 1409L620 1409Q430 1182 190 1039L190 803Q400 884 566 1010Z" fill="#000"/>
<text transform="translate(99.77 981.9) scale(1 1.0500)" font-size="43.9" fill="#000">00</text>
<text transform="translate(124.18 1058.22) scale(1 1.0500)" font-size="43.9" fill="#000">0</text>
<text transform="translate(799.3 600.5) scale(1 1.0500)" font-size="43.9" fill="#1b6ee0">2.5</text>
<text transform="translate(799.3 691.93) scale(1 1.0500)" font-size="43.9" fill="#1b6ee0">2.0</text>
<path transform="translate(799.3 783.36) scale(0.02144 -0.02251)" d="M566 0L852 0L852 1409L620 1409Q430 1182 190 1039L190 803Q400 884 566 1010Z" fill="#1b6ee0"/>
<text transform="translate(823.72 783.36) scale(1 1.0500)" font-size="43.9" fill="#1b6ee0">.5</text>
<path transform="translate(799.3 874.79) scale(0.02144 -0.02251)" d="M566 0L852 0L852 1409L620 1409Q430 1182 190 1039L190 803Q400 884 566 1010Z" fill="#1b6ee0"/>
<text transform="translate(823.72 874.79) scale(1 1.0500)" font-size="43.9" fill="#1b6ee0">.0</text>
<text transform="translate(799.3 966.22) scale(1 1.0500)" font-size="43.9" fill="#1b6ee0">0.5</text>
<text transform="translate(799.3 1057.65) scale(1 1.0500)" font-size="43.9" fill="#1b6ee0">0.0</text>
<text transform="translate(144.2 1093.5) scale(1 1.0400)" font-size="44.2" fill="#000">-6</text>
<text transform="translate(233.1 1093.5) scale(1 1.0400)" font-size="44.2" fill="#000">-5</text>
<text transform="translate(322 1093.5) scale(1 1.0400)" font-size="44.2" fill="#000">-4</text>
<text transform="translate(410.9 1093.5) scale(1 1.0400)" font-size="44.2" fill="#000">-3</text>
<text transform="translate(499.8 1093.5) scale(1 1.0400)" font-size="44.2" fill="#000">-2</text>
<text transform="translate(588.7 1093.5) scale(1 1.0400)" font-size="44.2" fill="#000">-</text>
<path transform="translate(603.42 1093.5) scale(0.02158 -0.02245)" d="M566 0L852 0L852 1409L620 1409Q430 1182 190 1039L190 803Q400 884 566 1010Z" fill="#000"/>
<text transform="translate(684.96 1093.5) scale(1 1.0400)" font-size="44.2" fill="#000">0</text>
<path transform="translate(773.86 1093.5) scale(0.02158 -0.02245)" d="M566 0L852 0L852 1409L620 1409Q430 1182 190 1039L190 803Q400 884 566 1010Z" fill="#000"/>
<text transform="translate(403.34 1155) scale(1 1.0450)" font-size="52" fill="#000">V</text>
<text transform="translate(436.84 1167.5)" font-size="35.67" fill="#000">gs</text>
<text transform="translate(492.12 1155)" font-size="51.89" fill="#000">(V)</text>
<g transform="translate(44.5 963.6) rotate(-90)">
<text transform="translate(0 0) scale(1 0.9900)" font-size="51.75" fill="#000">g</text>
<text transform="translate(31.3 13.7)" font-size="35.3" fill="#000">m</text>
<text transform="translate(76.7 0)" font-size="51.75" fill="#000">(mS/mm)</text>
</g>
<g transform="translate(917.6 929.2) rotate(-90)">
<text transform="translate(0 0) scale(1 1.0400)" font-size="51.75" fill="#1b6ee0">I</text>
<text transform="translate(14.1 13.6)" font-size="35" fill="#1b6ee0">d</text>
<text transform="translate(50.5 0) scale(1 1.0200)" font-size="51.75" fill="#1b6ee0">(A/mm)</text>
</g>
</svg>
</body></html>
